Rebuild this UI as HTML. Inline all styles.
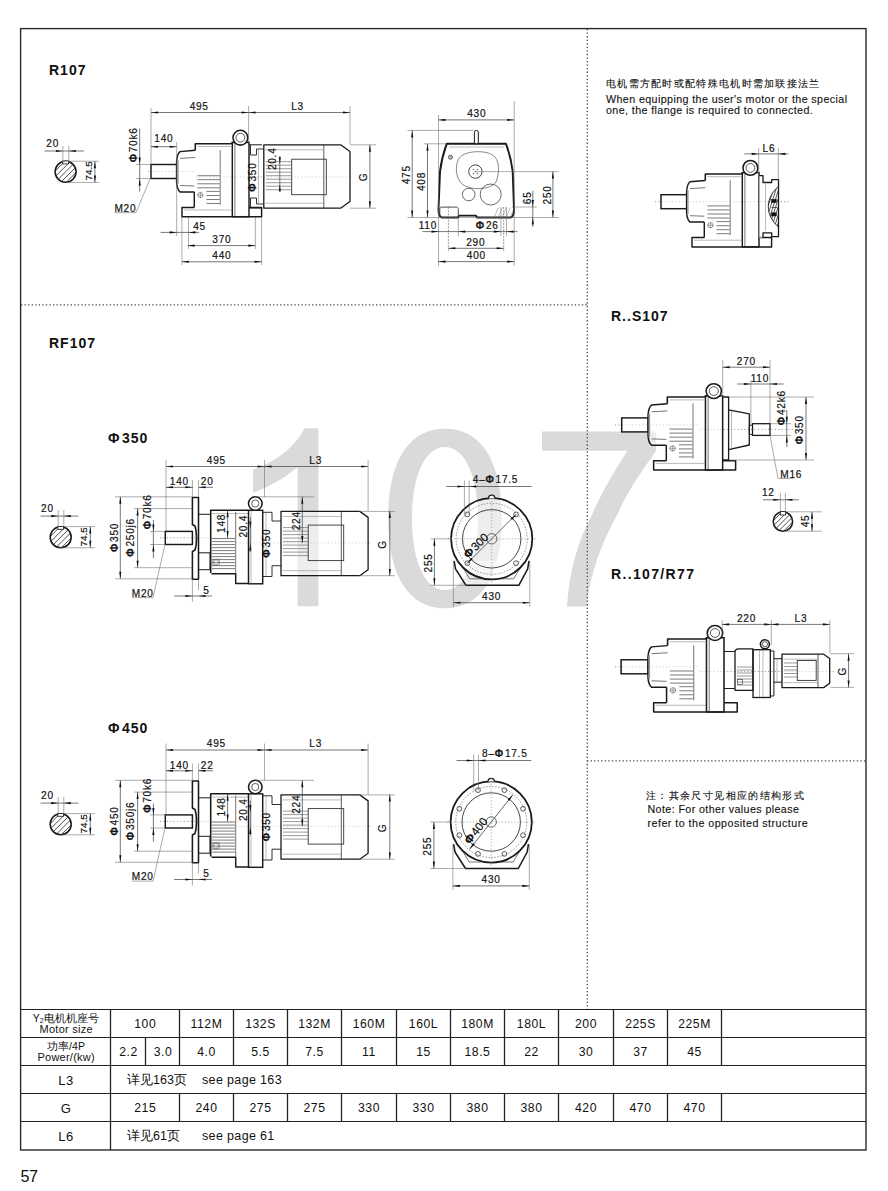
<!DOCTYPE html>
<html><head><meta charset="utf-8"><title>R107</title>
<style>
html,body{margin:0;padding:0;background:#fff;}
body{width:888px;height:1191px;overflow:hidden;font-family:"Liberation Sans",sans-serif;}
svg{display:block;}
text{stroke:#111;stroke-width:0.18px;}
text.t{stroke:none;}
text.n{stroke-width:0.12px;}
</style></head><body>
<svg width="888" height="1191" viewBox="0 0 888 1191" font-family='&quot;Liberation Sans&quot;, sans-serif'>
<path fill="#dadada" d="M304.3,428.2 L318.4,428.2 L318.4,606.2 L297.6,606.2 L297.6,467 C287,476 272,486 253,492.6 L253,469.5 C276,462 296,446 304.3,428.2 Z"/>
<path fill="#dadada" fill-rule="evenodd" d="M445,428.7 C481.35,428.7 501.8,461.03 501.8,518.5 C501.8,575.97 481.35,608.3 445,608.3 C408.65,608.3 388.2,575.97 388.2,518.5 C388.2,461.03 408.65,428.7 445,428.7Z M445,446.9 C464.8,446.9 478,475.54 478,518.5 C478,561.46 464.8,590.1 445,590.1 C425.2,590.1 412,561.46 412,518.5 C412,475.54 425.2,446.9 445,446.9Z"/>
<path fill="#dadada" d="M542,431.4 L656,431.4 L656,450.8 C645,467 628,490 617.5,514.2 C603,540 590,572 586.7,606.6 L567,606.6 C569,572 578,540 592.2,514.2 C603,490 616,468 627.6,450.8 L542,450.8 Z"/>
<rect x="20.6" y="28.6" width="845.4" height="1121.4" fill="none" stroke="#2a2a2a" stroke-width="1.4"/>
<line x1="587.3" y1="29" x2="587.3" y2="1009" stroke="#444" stroke-width="1.3" stroke-dasharray="1.3 2.25"/>
<line x1="21" y1="304.9" x2="587" y2="304.9" stroke="#444" stroke-width="1.3" stroke-dasharray="1.3 2.25"/>
<line x1="587" y1="760.9" x2="866" y2="760.9" stroke="#444" stroke-width="1.3" stroke-dasharray="1.3 2.25"/>
<line x1="21" y1="1009.5" x2="866" y2="1009.5" stroke="#222" stroke-width="1.2"/>
<line x1="21" y1="1037.5" x2="866" y2="1037.5" stroke="#222" stroke-width="1.2"/>
<line x1="21" y1="1065.5" x2="866" y2="1065.5" stroke="#222" stroke-width="1.2"/>
<line x1="21" y1="1093.5" x2="866" y2="1093.5" stroke="#222" stroke-width="1.2"/>
<line x1="21" y1="1121.5" x2="866" y2="1121.5" stroke="#222" stroke-width="1.2"/>
<line x1="110.5" y1="1009" x2="110.5" y2="1150" stroke="#222" stroke-width="1.3"/>
<line x1="179.5" y1="1009" x2="179.5" y2="1065" stroke="#222" stroke-width="1.3"/>
<line x1="233.5" y1="1009" x2="233.5" y2="1065" stroke="#222" stroke-width="1.3"/>
<line x1="287.5" y1="1009" x2="287.5" y2="1065" stroke="#222" stroke-width="1.3"/>
<line x1="341.5" y1="1009" x2="341.5" y2="1065" stroke="#222" stroke-width="1.3"/>
<line x1="396.5" y1="1009" x2="396.5" y2="1065" stroke="#222" stroke-width="1.3"/>
<line x1="450.5" y1="1009" x2="450.5" y2="1065" stroke="#222" stroke-width="1.3"/>
<line x1="504.5" y1="1009" x2="504.5" y2="1065" stroke="#222" stroke-width="1.3"/>
<line x1="558.5" y1="1009" x2="558.5" y2="1065" stroke="#222" stroke-width="1.3"/>
<line x1="613.5" y1="1009" x2="613.5" y2="1065" stroke="#222" stroke-width="1.3"/>
<line x1="667.5" y1="1009" x2="667.5" y2="1065" stroke="#222" stroke-width="1.3"/>
<line x1="721.5" y1="1009" x2="721.5" y2="1065" stroke="#222" stroke-width="1.3"/>
<line x1="179.5" y1="1093" x2="179.5" y2="1121" stroke="#222" stroke-width="1.3"/>
<line x1="233.5" y1="1093" x2="233.5" y2="1121" stroke="#222" stroke-width="1.3"/>
<line x1="287.5" y1="1093" x2="287.5" y2="1121" stroke="#222" stroke-width="1.3"/>
<line x1="341.5" y1="1093" x2="341.5" y2="1121" stroke="#222" stroke-width="1.3"/>
<line x1="396.5" y1="1093" x2="396.5" y2="1121" stroke="#222" stroke-width="1.3"/>
<line x1="450.5" y1="1093" x2="450.5" y2="1121" stroke="#222" stroke-width="1.3"/>
<line x1="504.5" y1="1093" x2="504.5" y2="1121" stroke="#222" stroke-width="1.3"/>
<line x1="558.5" y1="1093" x2="558.5" y2="1121" stroke="#222" stroke-width="1.3"/>
<line x1="613.5" y1="1093" x2="613.5" y2="1121" stroke="#222" stroke-width="1.3"/>
<line x1="667.5" y1="1093" x2="667.5" y2="1121" stroke="#222" stroke-width="1.3"/>
<line x1="721.5" y1="1093" x2="721.5" y2="1121" stroke="#222" stroke-width="1.3"/>
<line x1="145.5" y1="1037" x2="145.5" y2="1065" stroke="#222" stroke-width="1.3"/>
<text class="t" x="145.25" y="1028" font-size="12.2" text-anchor="middle" fill="#111" letter-spacing="0.55">100</text>
<text class="t" x="206.5" y="1028" font-size="12.2" text-anchor="middle" fill="#111" letter-spacing="0.55">112M</text>
<text class="t" x="260.5" y="1028" font-size="12.2" text-anchor="middle" fill="#111" letter-spacing="0.55">132S</text>
<text class="t" x="314.5" y="1028" font-size="12.2" text-anchor="middle" fill="#111" letter-spacing="0.55">132M</text>
<text class="t" x="369" y="1028" font-size="12.2" text-anchor="middle" fill="#111" letter-spacing="0.55">160M</text>
<text class="t" x="423.5" y="1028" font-size="12.2" text-anchor="middle" fill="#111" letter-spacing="0.55">160L</text>
<text class="t" x="477.5" y="1028" font-size="12.2" text-anchor="middle" fill="#111" letter-spacing="0.55">180M</text>
<text class="t" x="531.5" y="1028" font-size="12.2" text-anchor="middle" fill="#111" letter-spacing="0.55">180L</text>
<text class="t" x="586" y="1028" font-size="12.2" text-anchor="middle" fill="#111" letter-spacing="0.55">200</text>
<text class="t" x="640.5" y="1028" font-size="12.2" text-anchor="middle" fill="#111" letter-spacing="0.55">225S</text>
<text class="t" x="694.5" y="1028" font-size="12.2" text-anchor="middle" fill="#111" letter-spacing="0.55">225M</text>
<text class="t" x="145.25" y="1112" font-size="12.2" text-anchor="middle" fill="#111" letter-spacing="0.55">215</text>
<text class="t" x="206.5" y="1112" font-size="12.2" text-anchor="middle" fill="#111" letter-spacing="0.55">240</text>
<text class="t" x="260.5" y="1112" font-size="12.2" text-anchor="middle" fill="#111" letter-spacing="0.55">275</text>
<text class="t" x="314.5" y="1112" font-size="12.2" text-anchor="middle" fill="#111" letter-spacing="0.55">275</text>
<text class="t" x="369" y="1112" font-size="12.2" text-anchor="middle" fill="#111" letter-spacing="0.55">330</text>
<text class="t" x="423.5" y="1112" font-size="12.2" text-anchor="middle" fill="#111" letter-spacing="0.55">330</text>
<text class="t" x="477.5" y="1112" font-size="12.2" text-anchor="middle" fill="#111" letter-spacing="0.55">380</text>
<text class="t" x="531.5" y="1112" font-size="12.2" text-anchor="middle" fill="#111" letter-spacing="0.55">380</text>
<text class="t" x="586" y="1112" font-size="12.2" text-anchor="middle" fill="#111" letter-spacing="0.55">420</text>
<text class="t" x="640.5" y="1112" font-size="12.2" text-anchor="middle" fill="#111" letter-spacing="0.55">470</text>
<text class="t" x="694.5" y="1112" font-size="12.2" text-anchor="middle" fill="#111" letter-spacing="0.55">470</text>
<text class="t" x="128.5" y="1056" font-size="12.2" text-anchor="middle" fill="#111" letter-spacing="0.55">2.2</text>
<text class="t" x="163" y="1056" font-size="12.2" text-anchor="middle" fill="#111" letter-spacing="0.55">3.0</text>
<text class="t" x="206.5" y="1056" font-size="12.2" text-anchor="middle" fill="#111" letter-spacing="0.55">4.0</text>
<text class="t" x="260.5" y="1056" font-size="12.2" text-anchor="middle" fill="#111" letter-spacing="0.55">5.5</text>
<text class="t" x="314.5" y="1056" font-size="12.2" text-anchor="middle" fill="#111" letter-spacing="0.55">7.5</text>
<text class="t" x="369" y="1056" font-size="12.2" text-anchor="middle" fill="#111" letter-spacing="0.55">11</text>
<text class="t" x="423.5" y="1056" font-size="12.2" text-anchor="middle" fill="#111" letter-spacing="0.55">15</text>
<text class="t" x="477.5" y="1056" font-size="12.2" text-anchor="middle" fill="#111" letter-spacing="0.55">18.5</text>
<text class="t" x="531.5" y="1056" font-size="12.2" text-anchor="middle" fill="#111" letter-spacing="0.55">22</text>
<text class="t" x="586" y="1056" font-size="12.2" text-anchor="middle" fill="#111" letter-spacing="0.55">30</text>
<text class="t" x="640.5" y="1056" font-size="12.2" text-anchor="middle" fill="#111" letter-spacing="0.55">37</text>
<text class="t" x="694.5" y="1056" font-size="12.2" text-anchor="middle" fill="#111" letter-spacing="0.55">45</text>
<text class="t" x="66" y="1021.5" font-size="10.5" text-anchor="middle" fill="#111" letter-spacing="0.1">Y<tspan font-size="7" dy="1">2</tspan><tspan dy="-1">电机机座号</tspan></text>
<text class="t" x="66.2" y="1033" font-size="11" text-anchor="middle" fill="#111" letter-spacing="0.25">Motor size</text>
<text class="t" x="66" y="1049.5" font-size="10.5" text-anchor="middle" fill="#111" letter-spacing="0.1">功率/4P</text>
<text class="t" x="66.2" y="1061" font-size="11" text-anchor="middle" fill="#111" letter-spacing="0.25">Power/(kw)</text>
<text class="t" x="66" y="1084.5" font-size="13" text-anchor="middle" fill="#111" letter-spacing="0.55">L3</text>
<text class="t" x="66" y="1112.5" font-size="13" text-anchor="middle" fill="#111" letter-spacing="0.55">G</text>
<text class="t" x="66" y="1140.5" font-size="13" text-anchor="middle" fill="#111" letter-spacing="0.55">L6</text>
<text class="t" x="127" y="1084" font-size="12.5" text-anchor="start" fill="#111" letter-spacing="0">详见163页</text>
<text class="t" x="202" y="1084" font-size="12.5" text-anchor="start" fill="#111" letter-spacing="0.35">see page 163</text>
<text class="t" x="127" y="1140" font-size="12.5" text-anchor="start" fill="#111" letter-spacing="0">详见61页</text>
<text class="t" x="202" y="1140" font-size="12.5" text-anchor="start" fill="#111" letter-spacing="0.35">see page 61</text>
<text class="t" x="20.5" y="1182" font-size="16.2" text-anchor="start" fill="#111" letter-spacing="-0.6">57</text>
<text class="t" x="49" y="74.8" font-size="14" text-anchor="start" fill="#111" font-weight="bold" letter-spacing="1">R107</text>
<text class="t" x="49" y="348.4" font-size="14" text-anchor="start" fill="#111" font-weight="bold" letter-spacing="1">RF107</text>
<text class="t" x="108" y="443" font-size="14" text-anchor="start" fill="#111" font-weight="bold" letter-spacing="1"><tspan font-weight="bold" font-size="14">Φ</tspan><tspan dx="1.4">350</tspan></text>
<text class="t" x="108" y="733" font-size="14" text-anchor="start" fill="#111" font-weight="bold" letter-spacing="1"><tspan font-weight="bold" font-size="14">Φ</tspan><tspan dx="1.4">450</tspan></text>
<text class="t" x="611" y="320.5" font-size="14" text-anchor="start" fill="#111" font-weight="bold" letter-spacing="1">R..S107</text>
<text class="t" x="611" y="579.2" font-size="14" text-anchor="start" fill="#111" font-weight="bold" letter-spacing="1.35">R..107/R77</text>
<text class="n" x="606" y="87" font-size="10.3" text-anchor="start" fill="#111" letter-spacing="1.3">电机需方配时或配特殊电机时需加联接法兰</text>
<text class="n" x="606" y="102.5" font-size="10.7" text-anchor="start" fill="#111" letter-spacing="0.4">When equipping the user's motor or the special</text>
<text class="n" x="606" y="114" font-size="10.7" text-anchor="start" fill="#111" letter-spacing="0.4">one, the flange is required to connected.</text>
<text class="n" x="646" y="799" font-size="10.3" text-anchor="start" fill="#111" letter-spacing="1.37">注：其余尺寸见相应的结构形式</text>
<text class="n" x="647.5" y="812.5" font-size="10.7" text-anchor="start" fill="#111" letter-spacing="0.4">Note: For other values please</text>
<text class="n" x="647.5" y="827" font-size="10.7" text-anchor="start" fill="#111" letter-spacing="0.47">refer to the opposited structure</text>
<clipPath id="c65_171"><circle cx="65.6" cy="171.8" r="10.5"/></clipPath>
<g clip-path="url(#c65_171)">
<line x1="31.59" y1="177.79" x2="71.59" y2="137.79" stroke="#222" stroke-width="0.8"/>
<line x1="34.39" y1="180.59" x2="74.39" y2="140.59" stroke="#222" stroke-width="0.8"/>
<line x1="37.19" y1="183.39" x2="77.19" y2="143.39" stroke="#222" stroke-width="0.8"/>
<line x1="40" y1="186.2" x2="80" y2="146.2" stroke="#222" stroke-width="0.8"/>
<line x1="42.8" y1="189" x2="82.8" y2="149" stroke="#222" stroke-width="0.8"/>
<line x1="45.6" y1="191.8" x2="85.6" y2="151.8" stroke="#222" stroke-width="0.8"/>
<line x1="48.4" y1="194.6" x2="88.4" y2="154.6" stroke="#222" stroke-width="0.8"/>
<line x1="51.2" y1="197.4" x2="91.2" y2="157.4" stroke="#222" stroke-width="0.8"/>
<line x1="54.01" y1="200.21" x2="94.01" y2="160.21" stroke="#222" stroke-width="0.8"/>
<line x1="56.81" y1="203.01" x2="96.81" y2="163.01" stroke="#222" stroke-width="0.8"/>
<line x1="59.61" y1="205.81" x2="99.61" y2="165.81" stroke="#222" stroke-width="0.8"/>
</g>
<circle cx="65.6" cy="171.8" r="10.5" fill="none" stroke="#1a1a1a" stroke-width="1.55"/>
<rect x="62.8" y="161" width="5.6" height="2.9" fill="#fff" stroke="#1a1a1a" stroke-width="0.8"/>
<text x="52.67" y="146.64" font-size="10.1" text-anchor="middle" fill="#111" letter-spacing="0.75">20</text>
<line x1="44.5" y1="151" x2="84" y2="151" stroke="#3c3c3c" stroke-width="0.7"/>
<path d="M62.9,151 L55.9,152.05 L55.9,149.95 Z" fill="#111"/>
<path d="M68.8,151 L75.8,149.95 L75.8,152.05 Z" fill="#111"/>
<line x1="62.9" y1="146" x2="62.9" y2="162" stroke="#666" stroke-width="0.55"/>
<line x1="68.8" y1="146" x2="68.8" y2="162" stroke="#666" stroke-width="0.55"/>
<line x1="68" y1="161.2" x2="99" y2="161.2" stroke="#666" stroke-width="0.55"/>
<line x1="66" y1="182.4" x2="99" y2="182.4" stroke="#666" stroke-width="0.55"/>
<line x1="94.9" y1="161.2" x2="94.9" y2="182.4" stroke="#3c3c3c" stroke-width="0.7"/>
<path d="M94.9,161.2 L95.95,168.2 L93.85,168.2 Z" fill="#111"/>
<path d="M94.9,182.4 L93.85,175.4 L95.95,175.4 Z" fill="#111"/>
<text x="92.03" y="170.8" font-size="9.8" text-anchor="middle" fill="#111" letter-spacing="0.1" transform="rotate(-90 92.03 170.8)">74.5</text>
<line x1="148" y1="171.5" x2="196" y2="171.5" stroke="#777" stroke-width="0.7" stroke-dasharray="1.2 2.2"/>
<line x1="196" y1="177" x2="352" y2="177" stroke="#777" stroke-width="0.7" stroke-dasharray="1.2 2.2"/>
<g transform="translate(0 0) translate(151 0) scale(1 1) translate(-151 0)">
<path d="M151,164.5 L176.7,164.5 L176.7,160 L180,151.6 L195.3,150.3 L195.3,143.7 L233.3,142.4 L249,142.4 L249,207.4 L261.6,207.4 L261.6,216.7 L182,216.7 L182,207.4 L194.3,207.4 L194.3,191.9 L180,191.9 L176.7,184 L176.7,178.5 L151,178.5 Z" fill="#fff" fill-opacity="0.5" stroke="none"/>
<rect x="151" y="164.5" width="25.7" height="14" fill="none" stroke="#1a1a1a" stroke-width="1.45"/>
<path d="M195.3,150.3 L180,151.6 C177.8,153.5 176.8,157 176.6,162 L176.6,182 C176.8,186.5 177.8,190 180,191.9 L194.3,191.9" fill="none" stroke="#1a1a1a" stroke-width="1.45" stroke-linejoin="round"/>
<line x1="180" y1="158.4" x2="195.3" y2="157.5" stroke="#3c3c3c" stroke-width="0.7"/>
<line x1="180" y1="185.5" x2="194.3" y2="186" stroke="#3c3c3c" stroke-width="0.7"/>
<line x1="177.8" y1="160" x2="177.8" y2="184" stroke="#999" stroke-width="1.6"/>
<path d="M195.3,150.3 L195.3,143.7 L231,143.7 L233.3,142.4" fill="none" stroke="#1a1a1a" stroke-width="1.55" stroke-linejoin="round"/>
<path d="M194.3,191.9 L194.3,207.4" fill="none" stroke="#1a1a1a" stroke-width="1.45" stroke-linejoin="round"/>
<line x1="197.5" y1="146.5" x2="231" y2="146.5" stroke="#777" stroke-width="0.5"/>
<line x1="220.2" y1="150" x2="220.2" y2="205" stroke="#3c3c3c" stroke-width="0.7"/>
<line x1="197.4" y1="175.7" x2="219.7" y2="175.7" stroke="#444" stroke-width="0.7"/>
<line x1="197.4" y1="179.7" x2="219.7" y2="179.7" stroke="#444" stroke-width="0.7"/>
<line x1="197.4" y1="183.8" x2="219.7" y2="183.8" stroke="#444" stroke-width="0.7"/>
<line x1="197.4" y1="187.8" x2="219.7" y2="187.8" stroke="#444" stroke-width="0.7"/>
<line x1="206.5" y1="191.4" x2="219.7" y2="191.4" stroke="#444" stroke-width="0.7"/>
<line x1="206.5" y1="195.5" x2="219.7" y2="195.5" stroke="#444" stroke-width="0.7"/>
<line x1="206.5" y1="199.5" x2="219.7" y2="199.5" stroke="#444" stroke-width="0.7"/>
<line x1="206.5" y1="203.5" x2="219.7" y2="203.5" stroke="#444" stroke-width="0.7"/>
<circle cx="200.4" cy="195" r="2.6" fill="none" stroke="#555" stroke-width="0.6"/>
<line x1="197.5" y1="195" x2="203.3" y2="195" stroke="#555" stroke-width="0.5"/>
<line x1="200.4" y1="192.1" x2="200.4" y2="197.9" stroke="#555" stroke-width="0.5"/>
<rect x="232.3" y="142.4" width="16.7" height="74.3" fill="none" stroke="#1a1a1a" stroke-width="1.45"/>
<line x1="234.9" y1="142.4" x2="234.9" y2="216.7" stroke="#3c3c3c" stroke-width="0.7"/>
<circle cx="240.4" cy="137.7" r="7.4" fill="#fff" stroke="#1a1a1a" stroke-width="1.55"/>
<circle cx="240.4" cy="137.7" r="4.4" fill="none" stroke="#333" stroke-width="0.8"/>
<path d="M194.3,207.4 L182,207.4 L182,216.7 L261.6,216.7 L261.6,207.4 L249,207.4" fill="none" stroke="#1a1a1a" stroke-width="1.45" stroke-linejoin="round"/>
<line x1="184" y1="210" x2="232" y2="210" stroke="#777" stroke-width="0.5"/>
</g>
<path d="M249,144.8 L262,144.8 M249,208 L262,208" fill="none" stroke="#1a1a1a" stroke-width="1" stroke-linejoin="round"/>
<path d="M250.5,144.8 L250.5,155 L256.5,155 L256.5,149 L263.8,149" fill="none" stroke="#1a1a1a" stroke-width="0.9" stroke-linejoin="round"/>
<path d="M250.5,208 L250.5,198 L256.5,198 L256.5,204 L263.8,204" fill="none" stroke="#1a1a1a" stroke-width="0.9" stroke-linejoin="round"/>
<line x1="258.5" y1="150" x2="258.5" y2="203" stroke="#777" stroke-width="0.5"/>
<path d="M263.8,144.8 L340.6,144.8 L350,151.57 L350,201.43 L340.6,208.2 L263.8,208.2 Z" fill="#fff" fill-opacity="0.5" stroke="none"/>
<path d="M263.8,144.8 L340.6,144.8 L350,151.57 L350,201.43 L340.6,208.2 L263.8,208.2 Z" fill="none" stroke="#1a1a1a" stroke-width="1.3" stroke-linejoin="round"/>
<line x1="323.8" y1="144.8" x2="323.8" y2="208.2" stroke="#333" stroke-width="0.8"/>
<line x1="265.3" y1="149.8" x2="323.8" y2="149.8" stroke="#777" stroke-width="0.5"/>
<line x1="265.3" y1="203.2" x2="323.8" y2="203.2" stroke="#777" stroke-width="0.5"/>
<rect x="291.7" y="159.2" width="34.6" height="35.5" fill="none" stroke="#333" stroke-width="0.9"/>
<line x1="265.8" y1="161.7" x2="291.7" y2="161.7" stroke="#555" stroke-width="0.6"/>
<line x1="265.8" y1="165.2" x2="291.7" y2="165.2" stroke="#555" stroke-width="0.6"/>
<line x1="265.8" y1="168.7" x2="291.7" y2="168.7" stroke="#555" stroke-width="0.6"/>
<line x1="265.8" y1="172.2" x2="291.7" y2="172.2" stroke="#555" stroke-width="0.6"/>
<line x1="265.8" y1="175.7" x2="291.7" y2="175.7" stroke="#555" stroke-width="0.6"/>
<line x1="265.8" y1="179.2" x2="291.7" y2="179.2" stroke="#555" stroke-width="0.6"/>
<line x1="265.8" y1="182.7" x2="291.7" y2="182.7" stroke="#555" stroke-width="0.6"/>
<line x1="265.8" y1="186.2" x2="291.7" y2="186.2" stroke="#555" stroke-width="0.6"/>
<line x1="265.8" y1="189.7" x2="291.7" y2="189.7" stroke="#555" stroke-width="0.6"/>
<line x1="151" y1="108" x2="151" y2="164" stroke="#666" stroke-width="0.55"/>
<line x1="248.6" y1="106" x2="248.6" y2="142" stroke="#666" stroke-width="0.55"/>
<line x1="350" y1="106" x2="350" y2="144" stroke="#666" stroke-width="0.55"/>
<line x1="151" y1="112.5" x2="350" y2="112.5" stroke="#3c3c3c" stroke-width="0.7"/>
<path d="M151,112.5 L158,111.45 L158,113.55 Z" fill="#111"/>
<path d="M248.6,112.5 L241.6,113.55 L241.6,111.45 Z" fill="#111"/>
<path d="M248.6,112.5 L255.6,111.45 L255.6,113.55 Z" fill="#111"/>
<path d="M350,112.5 L343,113.55 L343,111.45 Z" fill="#111"/>
<text x="199.18" y="109.64" font-size="10.1" text-anchor="middle" fill="#111" letter-spacing="0.75">495</text>
<text x="297.57" y="109.64" font-size="10.1" text-anchor="middle" fill="#111" letter-spacing="0.75">L3</text>
<line x1="151" y1="146.7" x2="176.7" y2="146.7" stroke="#3c3c3c" stroke-width="0.7"/>
<path d="M151,146.7 L158,145.65 L158,147.75 Z" fill="#111"/>
<path d="M176.7,146.7 L169.7,147.75 L169.7,145.65 Z" fill="#111"/>
<line x1="176.7" y1="142" x2="176.7" y2="236" stroke="#666" stroke-width="0.55"/>
<text x="163.88" y="142.14" font-size="10.1" text-anchor="middle" fill="#111" letter-spacing="0.75">140</text>
<line x1="139.7" y1="128.5" x2="139.7" y2="191.5" stroke="#3c3c3c" stroke-width="0.7"/>
<path d="M139.7,164.5 L138.65,157.5 L140.75,157.5 Z" fill="#111"/>
<path d="M139.7,178.5 L140.75,185.5 L138.65,185.5 Z" fill="#111"/>
<line x1="136" y1="164.5" x2="151" y2="164.5" stroke="#666" stroke-width="0.55"/>
<line x1="136" y1="178.5" x2="151" y2="178.5" stroke="#666" stroke-width="0.55"/>
<text x="136.84" y="144.88" font-size="10.1" text-anchor="middle" fill="#111" letter-spacing="0.75" transform="rotate(-90 136.84 144.88)"><tspan font-weight="bold" font-size="10.1">Φ</tspan><tspan dx="1.01">70k6</tspan></text>
<text x="125.38" y="211.64" font-size="10.1" text-anchor="middle" fill="#111" letter-spacing="0.75">M20</text>
<line x1="114.5" y1="212.7" x2="136" y2="212.7" stroke="#666" stroke-width="0.55"/>
<line x1="136" y1="212.7" x2="150" y2="179" stroke="#666" stroke-width="0.55"/>
<line x1="160.6" y1="232.4" x2="199" y2="232.4" stroke="#3c3c3c" stroke-width="0.7"/>
<path d="M176.7,232.4 L169.7,233.45 L169.7,231.35 Z" fill="#111"/>
<path d="M188.5,232.4 L195.5,231.35 L195.5,233.45 Z" fill="#111"/>
<text x="199.57" y="229.64" font-size="10.1" text-anchor="middle" fill="#111" letter-spacing="0.75">45</text>
<line x1="188.5" y1="217" x2="188.5" y2="249" stroke="#666" stroke-width="0.55"/>
<line x1="255.3" y1="217" x2="255.3" y2="249" stroke="#666" stroke-width="0.55"/>
<line x1="187.7" y1="245.6" x2="255.3" y2="245.6" stroke="#3c3c3c" stroke-width="0.7"/>
<path d="M187.7,245.6 L194.7,244.55 L194.7,246.65 Z" fill="#111"/>
<path d="M255.3,245.6 L248.3,246.65 L248.3,244.55 Z" fill="#111"/>
<text x="221.88" y="242.64" font-size="10.1" text-anchor="middle" fill="#111" letter-spacing="0.75">370</text>
<line x1="181.9" y1="217" x2="181.9" y2="265" stroke="#666" stroke-width="0.55"/>
<line x1="261.6" y1="217" x2="261.6" y2="265" stroke="#666" stroke-width="0.55"/>
<line x1="181.9" y1="261.8" x2="261.6" y2="261.8" stroke="#3c3c3c" stroke-width="0.7"/>
<path d="M181.9,261.8 L188.9,260.75 L188.9,262.85 Z" fill="#111"/>
<path d="M261.6,261.8 L254.6,262.85 L254.6,260.75 Z" fill="#111"/>
<text x="221.88" y="258.94" font-size="10.1" text-anchor="middle" fill="#111" letter-spacing="0.75">440</text>
<line x1="279.8" y1="156" x2="279.8" y2="190" stroke="#3c3c3c" stroke-width="0.7"/>
<path d="M279.8,164.3 L278.75,157.3 L280.85,157.3 Z" fill="#111"/>
<path d="M279.8,184.5 L280.85,191.5 L278.75,191.5 Z" fill="#111"/>
<text x="275.84" y="158.78" font-size="10.1" text-anchor="middle" fill="#111" letter-spacing="0.75" transform="rotate(-90 275.84 158.78)">20.4</text>
<text x="255.64" y="177.07" font-size="10.1" text-anchor="middle" fill="#111" letter-spacing="0.75" transform="rotate(-90 255.64 177.07)"><tspan font-weight="bold" font-size="10.1">Φ</tspan><tspan dx="1.01">350</tspan></text>
<line x1="350" y1="144.8" x2="376" y2="144.8" stroke="#666" stroke-width="0.55"/>
<line x1="350" y1="208.2" x2="376" y2="208.2" stroke="#666" stroke-width="0.55"/>
<line x1="369.9" y1="144.8" x2="369.9" y2="208.2" stroke="#3c3c3c" stroke-width="0.7"/>
<path d="M369.9,144.8 L370.95,151.8 L368.85,151.8 Z" fill="#111"/>
<path d="M369.9,208.2 L368.85,201.2 L370.95,201.2 Z" fill="#111"/>
<text x="366.94" y="176.88" font-size="10.1" text-anchor="middle" fill="#111" letter-spacing="0.75" transform="rotate(-90 366.94 176.88)">G</text>
<path d="M446.7,143.8 L506,143.8 C509,152 511.5,161 512.7,171.6 L514,209.5 C514,213.5 513,216.5 511,217.5 L477,217.5 L476,215.6 L459,215.6 L458,217.5 L441.5,217.5 C439.5,216.5 438.5,213.5 438.5,209.5 L440,171.6 C441.2,161 443.7,152 446.7,143.8 Z" fill="none" stroke="#1a1a1a" stroke-width="1.9" stroke-linejoin="round"/>
<line x1="449" y1="147" x2="504" y2="147" stroke="#777" stroke-width="0.5"/>
<rect x="474.4" y="130.4" width="3.9" height="13.4" fill="#fff" stroke="#1a1a1a" stroke-width="1" rx="1.8"/>
<path d="M458,160 C462,150 488,149 495,157 C500,163 499,175 496,182 C491,190 470,191 462,184 C456,178 455,168 458,160 Z" fill="none" stroke="#555" stroke-width="0.7" stroke-linejoin="round"/>
<circle cx="475.4" cy="171.6" r="6.7" fill="none" stroke="#333" stroke-width="0.9"/>
<circle cx="473.4" cy="169.6" r="0.5" fill="#555" stroke="#555" stroke-width="0.4"/>
<circle cx="477.4" cy="169.6" r="0.5" fill="#555" stroke="#555" stroke-width="0.4"/>
<circle cx="473.4" cy="173.6" r="0.5" fill="#555" stroke="#555" stroke-width="0.4"/>
<circle cx="477.4" cy="173.6" r="0.5" fill="#555" stroke="#555" stroke-width="0.4"/>
<circle cx="475.4" cy="171.6" r="0.5" fill="#555" stroke="#555" stroke-width="0.4"/>
<circle cx="468.7" cy="194.5" r="6.3" fill="none" stroke="#444" stroke-width="0.8"/>
<circle cx="490.7" cy="194.5" r="10.5" fill="none" stroke="#444" stroke-width="0.8"/>
<circle cx="450.5" cy="157.2" r="2" fill="#bbb" stroke="#555" stroke-width="0.9"/>
<path d="M439.8,216.7 L439.8,209 C439.8,207.8 440.5,207.1 441.5,207.1 L456.3,207.1 C457.5,207.1 458.3,208 458.3,209.5 L458.3,216.7" fill="none" stroke="#333" stroke-width="0.9" stroke-linejoin="round"/>
<line x1="500.9" y1="207" x2="500.9" y2="236" stroke="#666" stroke-width="0.55"/>
<line x1="506.5" y1="207" x2="506.5" y2="236" stroke="#666" stroke-width="0.55"/>
<line x1="503.7" y1="207" x2="503.7" y2="252" stroke="#555" stroke-width="0.6" stroke-dasharray="2 1.2"/>
<line x1="448.4" y1="207" x2="448.4" y2="252" stroke="#555" stroke-width="0.6" stroke-dasharray="2 1.2"/>
<line x1="494.5" y1="216.5" x2="498.5" y2="207.5" stroke="#777" stroke-width="0.5"/>
<line x1="498.5" y1="216.5" x2="502.5" y2="207.5" stroke="#777" stroke-width="0.5"/>
<line x1="502.5" y1="216.5" x2="506.5" y2="207.5" stroke="#777" stroke-width="0.5"/>
<line x1="506.5" y1="216.5" x2="510.5" y2="207.5" stroke="#777" stroke-width="0.5"/>
<line x1="510.5" y1="216.5" x2="514.5" y2="207.5" stroke="#777" stroke-width="0.5"/>
<line x1="438.5" y1="115" x2="438.5" y2="266" stroke="#666" stroke-width="0.55"/>
<line x1="514.2" y1="101" x2="514.2" y2="266" stroke="#666" stroke-width="0.55"/>
<line x1="438.5" y1="119.9" x2="514.2" y2="119.9" stroke="#3c3c3c" stroke-width="0.7"/>
<path d="M438.5,119.9 L445.5,118.85 L445.5,120.95 Z" fill="#111"/>
<path d="M514.2,119.9 L507.2,120.95 L507.2,118.85 Z" fill="#111"/>
<text x="476.77" y="116.84" font-size="10.1" text-anchor="middle" fill="#111" letter-spacing="0.75">430</text>
<line x1="407.4" y1="130.4" x2="473.5" y2="130.4" stroke="#666" stroke-width="0.55"/>
<line x1="423.7" y1="143.8" x2="446.7" y2="143.8" stroke="#666" stroke-width="0.55"/>
<line x1="407.4" y1="217.5" x2="558.7" y2="217.5" stroke="#666" stroke-width="0.55"/>
<line x1="412.2" y1="130.4" x2="412.2" y2="217.5" stroke="#3c3c3c" stroke-width="0.7"/>
<path d="M412.2,130.4 L413.25,137.4 L411.15,137.4 Z" fill="#111"/>
<path d="M412.2,217.5 L411.15,210.5 L413.25,210.5 Z" fill="#111"/>
<text x="409.94" y="174.78" font-size="10.1" text-anchor="middle" fill="#111" letter-spacing="0.75" transform="rotate(-90 409.94 174.78)">475</text>
<line x1="427.5" y1="143.8" x2="427.5" y2="217.5" stroke="#3c3c3c" stroke-width="0.7"/>
<path d="M427.5,143.8 L428.55,150.8 L426.45,150.8 Z" fill="#111"/>
<path d="M427.5,217.5 L426.45,210.5 L428.55,210.5 Z" fill="#111"/>
<text x="425.44" y="181.47" font-size="10.1" text-anchor="middle" fill="#111" letter-spacing="0.75" transform="rotate(-90 425.44 181.47)">408</text>
<line x1="475.4" y1="171.6" x2="558.7" y2="171.6" stroke="#666" stroke-width="0.55"/>
<line x1="552.9" y1="171.6" x2="552.9" y2="217.5" stroke="#3c3c3c" stroke-width="0.7"/>
<path d="M552.9,171.6 L553.95,178.6 L551.85,178.6 Z" fill="#111"/>
<path d="M552.9,217.5 L551.85,210.5 L553.95,210.5 Z" fill="#111"/>
<text x="550.84" y="194.88" font-size="10.1" text-anchor="middle" fill="#111" letter-spacing="0.75" transform="rotate(-90 550.84 194.88)">250</text>
<line x1="512" y1="207" x2="536.7" y2="207" stroke="#666" stroke-width="0.55"/>
<line x1="532.8" y1="190.7" x2="532.8" y2="227" stroke="#3c3c3c" stroke-width="0.7"/>
<path d="M532.8,207 L531.75,200 L533.85,200 Z" fill="#111"/>
<path d="M532.8,217.5 L533.85,224.5 L531.75,224.5 Z" fill="#111"/>
<text x="530.64" y="197.78" font-size="10.1" text-anchor="middle" fill="#111" letter-spacing="0.75" transform="rotate(-90 530.64 197.78)">65</text>
<line x1="422.4" y1="231.6" x2="517.5" y2="231.6" stroke="#3c3c3c" stroke-width="0.7"/>
<path d="M438.5,231.6 L431.5,232.65 L431.5,230.55 Z" fill="#111"/>
<path d="M458.3,231.6 L465.3,230.55 L465.3,232.65 Z" fill="#111"/>
<path d="M500.9,231.6 L493.9,232.65 L493.9,230.55 Z" fill="#111"/>
<path d="M506.5,231.6 L513.5,230.55 L513.5,232.65 Z" fill="#111"/>
<text x="427.88" y="228.84" font-size="10.1" text-anchor="middle" fill="#111" letter-spacing="0.75">110</text>
<text x="487.27" y="228.84" font-size="10.1" text-anchor="middle" fill="#111" letter-spacing="0.75"><tspan font-weight="bold" font-size="10.1">Φ</tspan><tspan dx="1.01">26</tspan></text>
<line x1="458.3" y1="217" x2="458.3" y2="236" stroke="#666" stroke-width="0.55"/>
<line x1="448.4" y1="248.3" x2="503.7" y2="248.3" stroke="#3c3c3c" stroke-width="0.7"/>
<path d="M448.4,248.3 L455.4,247.25 L455.4,249.35 Z" fill="#111"/>
<path d="M503.7,248.3 L496.7,249.35 L496.7,247.25 Z" fill="#111"/>
<text x="475.77" y="246.04" font-size="10.1" text-anchor="middle" fill="#111" letter-spacing="0.75">290</text>
<line x1="438.5" y1="261.6" x2="514.2" y2="261.6" stroke="#3c3c3c" stroke-width="0.7"/>
<path d="M438.5,261.6 L445.5,260.55 L445.5,262.65 Z" fill="#111"/>
<path d="M514.2,261.6 L507.2,262.65 L507.2,260.55 Z" fill="#111"/>
<text x="476.38" y="259.44" font-size="10.1" text-anchor="middle" fill="#111" letter-spacing="0.75">400</text>
<line x1="655" y1="201.7" x2="790" y2="201.7" stroke="#777" stroke-width="0.7" stroke-dasharray="1.2 2.2"/>
<g transform="translate(510 30.2) translate(151 0) scale(1 1) translate(-151 0)">
<path d="M151,164.5 L176.7,164.5 L176.7,160 L180,151.6 L195.3,150.3 L195.3,143.7 L233.3,142.4 L249,142.4 L249,207.4 L261.6,207.4 L261.6,216.7 L182,216.7 L182,207.4 L194.3,207.4 L194.3,191.9 L180,191.9 L176.7,184 L176.7,178.5 L151,178.5 Z" fill="#fff" fill-opacity="0.5" stroke="none"/>
<rect x="151" y="164.5" width="25.7" height="14" fill="none" stroke="#1a1a1a" stroke-width="1.45"/>
<path d="M195.3,150.3 L180,151.6 C177.8,153.5 176.8,157 176.6,162 L176.6,182 C176.8,186.5 177.8,190 180,191.9 L194.3,191.9" fill="none" stroke="#1a1a1a" stroke-width="1.45" stroke-linejoin="round"/>
<line x1="180" y1="158.4" x2="195.3" y2="157.5" stroke="#3c3c3c" stroke-width="0.7"/>
<line x1="180" y1="185.5" x2="194.3" y2="186" stroke="#3c3c3c" stroke-width="0.7"/>
<line x1="177.8" y1="160" x2="177.8" y2="184" stroke="#999" stroke-width="1.6"/>
<path d="M195.3,150.3 L195.3,143.7 L231,143.7 L233.3,142.4" fill="none" stroke="#1a1a1a" stroke-width="1.55" stroke-linejoin="round"/>
<path d="M194.3,191.9 L194.3,207.4" fill="none" stroke="#1a1a1a" stroke-width="1.45" stroke-linejoin="round"/>
<line x1="197.5" y1="146.5" x2="231" y2="146.5" stroke="#777" stroke-width="0.5"/>
<line x1="220.2" y1="150" x2="220.2" y2="205" stroke="#3c3c3c" stroke-width="0.7"/>
<line x1="197.4" y1="175.7" x2="219.7" y2="175.7" stroke="#444" stroke-width="0.7"/>
<line x1="197.4" y1="179.7" x2="219.7" y2="179.7" stroke="#444" stroke-width="0.7"/>
<line x1="197.4" y1="183.8" x2="219.7" y2="183.8" stroke="#444" stroke-width="0.7"/>
<line x1="197.4" y1="187.8" x2="219.7" y2="187.8" stroke="#444" stroke-width="0.7"/>
<line x1="206.5" y1="191.4" x2="219.7" y2="191.4" stroke="#444" stroke-width="0.7"/>
<line x1="206.5" y1="195.5" x2="219.7" y2="195.5" stroke="#444" stroke-width="0.7"/>
<line x1="206.5" y1="199.5" x2="219.7" y2="199.5" stroke="#444" stroke-width="0.7"/>
<line x1="206.5" y1="203.5" x2="219.7" y2="203.5" stroke="#444" stroke-width="0.7"/>
<circle cx="200.4" cy="195" r="2.6" fill="none" stroke="#555" stroke-width="0.6"/>
<line x1="197.5" y1="195" x2="203.3" y2="195" stroke="#555" stroke-width="0.5"/>
<line x1="200.4" y1="192.1" x2="200.4" y2="197.9" stroke="#555" stroke-width="0.5"/>
<rect x="232.3" y="142.4" width="16.7" height="74.3" fill="none" stroke="#1a1a1a" stroke-width="1.45"/>
<line x1="234.9" y1="142.4" x2="234.9" y2="216.7" stroke="#3c3c3c" stroke-width="0.7"/>
<circle cx="240.4" cy="137.7" r="7.4" fill="#fff" stroke="#1a1a1a" stroke-width="1.55"/>
<circle cx="240.4" cy="137.7" r="4.4" fill="none" stroke="#333" stroke-width="0.8"/>
<path d="M194.3,207.4 L182,207.4 L182,216.7 L261.6,216.7 L261.6,207.4 L249,207.4" fill="none" stroke="#1a1a1a" stroke-width="1.45" stroke-linejoin="round"/>
<line x1="184" y1="210" x2="232" y2="210" stroke="#777" stroke-width="0.5"/>
</g>
<path d="M759,175.7 L763,175.7 L763,182.5 L771.7,182.5 L771.7,179.6 L778.5,179.6 L778.5,236.6 L771.7,236.6 L771.7,232.8 L763,232.8 L763,238 L759,238 Z" fill="#fff" fill-opacity="0.5" stroke="none"/>
<path d="M759,175.7 L763,175.7 L763,182.5 L771.7,182.5 L771.7,179.6 L778.5,179.6 L778.5,236.6 L771.7,236.6 L771.7,232.8 L763,232.8 L763,238" fill="none" stroke="#1a1a1a" stroke-width="1.3" stroke-linejoin="round"/>
<line x1="765.5" y1="184" x2="765.5" y2="231" stroke="#777" stroke-width="0.5"/>
<clipPath id="fhatch"><path d="M778.5,186.4 C772,192 768.3,199 768.3,206.7 C768.3,214.4 772,221.4 778.5,227 Z"/></clipPath>
<g clip-path="url(#fhatch)">
<line x1="744.2" y1="232" x2="760.2" y2="182" stroke="#222" stroke-width="0.75"/>
<line x1="746.8" y1="232" x2="762.8" y2="182" stroke="#222" stroke-width="0.75"/>
<line x1="749.4" y1="232" x2="765.4" y2="182" stroke="#222" stroke-width="0.75"/>
<line x1="752" y1="232" x2="768" y2="182" stroke="#222" stroke-width="0.75"/>
<line x1="754.6" y1="232" x2="770.6" y2="182" stroke="#222" stroke-width="0.75"/>
<line x1="757.2" y1="232" x2="773.2" y2="182" stroke="#222" stroke-width="0.75"/>
<line x1="759.8" y1="232" x2="775.8" y2="182" stroke="#222" stroke-width="0.75"/>
<line x1="762.4" y1="232" x2="778.4" y2="182" stroke="#222" stroke-width="0.75"/>
<line x1="765" y1="232" x2="781" y2="182" stroke="#222" stroke-width="0.75"/>
<line x1="767.6" y1="232" x2="783.6" y2="182" stroke="#222" stroke-width="0.75"/>
<line x1="770.2" y1="232" x2="786.2" y2="182" stroke="#222" stroke-width="0.75"/>
<line x1="772.8" y1="232" x2="788.8" y2="182" stroke="#222" stroke-width="0.75"/>
<line x1="775.4" y1="232" x2="791.4" y2="182" stroke="#222" stroke-width="0.75"/>
<line x1="778" y1="232" x2="794" y2="182" stroke="#222" stroke-width="0.75"/>
<line x1="780.6" y1="232" x2="796.6" y2="182" stroke="#222" stroke-width="0.75"/>
<line x1="783.2" y1="232" x2="799.2" y2="182" stroke="#222" stroke-width="0.75"/>
<line x1="785.8" y1="232" x2="801.8" y2="182" stroke="#222" stroke-width="0.75"/>
<line x1="788.4" y1="232" x2="804.4" y2="182" stroke="#222" stroke-width="0.75"/>
<line x1="791" y1="232" x2="807" y2="182" stroke="#222" stroke-width="0.75"/>
<line x1="793.6" y1="232" x2="809.6" y2="182" stroke="#222" stroke-width="0.75"/>
</g>
<path d="M778.5,186.4 C772,192 768.3,199 768.3,206.7 C768.3,214.4 772,221.4 778.5,227" fill="none" stroke="#1a1a1a" stroke-width="0.9" stroke-linejoin="round"/>
<rect x="771.5" y="199.4" width="4.8" height="3.2" fill="#111" stroke="#111" stroke-width="0.5"/>
<rect x="771.5" y="212.8" width="4.8" height="3.2" fill="#111" stroke="#111" stroke-width="0.5"/>
<line x1="771.5" y1="207.5" x2="777" y2="207.5" stroke="#333" stroke-width="0.8"/>
<line x1="744.3" y1="153.9" x2="788.4" y2="153.9" stroke="#3c3c3c" stroke-width="0.7"/>
<path d="M758.7,153.9 L751.7,154.95 L751.7,152.85 Z" fill="#111"/>
<path d="M778.3,153.9 L785.3,152.85 L785.3,154.95 Z" fill="#111"/>
<line x1="758.7" y1="148" x2="758.7" y2="176" stroke="#666" stroke-width="0.55"/>
<line x1="778.3" y1="148" x2="778.3" y2="180" stroke="#666" stroke-width="0.55"/>
<text x="768.98" y="152.24" font-size="10.1" text-anchor="middle" fill="#111" letter-spacing="0.75">L6</text>
<clipPath id="c60_537"><circle cx="60.7" cy="537.2" r="10.5"/></clipPath>
<g clip-path="url(#c60_537)">
<line x1="26.69" y1="543.19" x2="66.69" y2="503.19" stroke="#222" stroke-width="0.8"/>
<line x1="29.49" y1="545.99" x2="69.49" y2="505.99" stroke="#222" stroke-width="0.8"/>
<line x1="32.29" y1="548.79" x2="72.29" y2="508.79" stroke="#222" stroke-width="0.8"/>
<line x1="35.1" y1="551.6" x2="75.1" y2="511.6" stroke="#222" stroke-width="0.8"/>
<line x1="37.9" y1="554.4" x2="77.9" y2="514.4" stroke="#222" stroke-width="0.8"/>
<line x1="40.7" y1="557.2" x2="80.7" y2="517.2" stroke="#222" stroke-width="0.8"/>
<line x1="43.5" y1="560" x2="83.5" y2="520" stroke="#222" stroke-width="0.8"/>
<line x1="46.3" y1="562.8" x2="86.3" y2="522.8" stroke="#222" stroke-width="0.8"/>
<line x1="49.11" y1="565.61" x2="89.11" y2="525.61" stroke="#222" stroke-width="0.8"/>
<line x1="51.91" y1="568.41" x2="91.91" y2="528.41" stroke="#222" stroke-width="0.8"/>
<line x1="54.71" y1="571.21" x2="94.71" y2="531.21" stroke="#222" stroke-width="0.8"/>
</g>
<circle cx="60.7" cy="537.2" r="10.5" fill="none" stroke="#1a1a1a" stroke-width="1.55"/>
<rect x="57.9" y="526.4" width="5.6" height="2.9" fill="#fff" stroke="#1a1a1a" stroke-width="0.8"/>
<g transform="translate(0 0)">
<text x="47.48" y="512.14" font-size="10.1" text-anchor="middle" fill="#111" letter-spacing="0.75">20</text>
<line x1="40.6" y1="516.1" x2="78.5" y2="516.1" stroke="#3c3c3c" stroke-width="0.7"/>
<path d="M58.2,516.1 L51.2,517.15 L51.2,515.05 Z" fill="#111"/>
<path d="M63.8,516.1 L70.8,515.05 L70.8,517.15 Z" fill="#111"/>
<line x1="58.2" y1="510" x2="58.2" y2="527" stroke="#666" stroke-width="0.55"/>
<line x1="63.8" y1="510" x2="63.8" y2="527" stroke="#666" stroke-width="0.55"/>
<line x1="63" y1="526.6" x2="95" y2="526.6" stroke="#666" stroke-width="0.55"/>
<line x1="60" y1="547.8" x2="95" y2="547.8" stroke="#666" stroke-width="0.55"/>
<line x1="90.3" y1="526.6" x2="90.3" y2="547.8" stroke="#3c3c3c" stroke-width="0.7"/>
<path d="M90.3,526.6 L91.35,533.6 L89.25,533.6 Z" fill="#111"/>
<path d="M90.3,547.8 L89.25,540.8 L91.35,540.8 Z" fill="#111"/>
<text x="87.03" y="536.8" font-size="9.8" text-anchor="middle" fill="#111" letter-spacing="0.1" transform="rotate(-90 87.03 536.8)">74.5</text>
</g>
<g transform="translate(0 0)">
<line x1="160" y1="537.9" x2="240" y2="537.9" stroke="#777" stroke-width="0.7" stroke-dasharray="1.2 2.2"/>
<line x1="236" y1="542.9" x2="372" y2="542.9" stroke="#777" stroke-width="0.7" stroke-dasharray="1.2 2.2"/>
<path d="M198.5,510.3 L262.7,510.3 L262.7,512.3 L281,512.3 L281,576.5 L262.7,576.5 L262.7,583.8 L235.7,583.8 L235.7,573.8 L210.7,573.8 L210.7,569.7 L198.5,569.7 Z" fill="#fff" fill-opacity="0.5" stroke="none"/>
<rect x="165.3" y="531.4" width="27.1" height="13.1" fill="none" stroke="#1a1a1a" stroke-width="1.45"/>
<path d="M192.4,497.4 L192.4,524.5 L195,526 C197,532 197,544 195,550 L192.4,551.5 L192.4,579.2 L198.5,579.2 L198.5,497.4 Z" fill="none" stroke="#1a1a1a" stroke-width="1.55" stroke-linejoin="round"/>
<path d="M198.5,514.3 L210.7,514.3 M198.5,552.8 L210,552.8 L210,569.7 L198.5,569.7" fill="none" stroke="#1a1a1a" stroke-width="1" stroke-linejoin="round"/>
<path d="M210.7,573 L210.7,510.3 L248.5,510.3" fill="none" stroke="#1a1a1a" stroke-width="1.55" stroke-linejoin="round"/>
<path d="M211.5,573.8 L235.7,573.8 L235.7,583.5 L248.5,583.5" fill="none" stroke="#1a1a1a" stroke-width="1.45" stroke-linejoin="round"/>
<line x1="212" y1="513.6" x2="248" y2="513.6" stroke="#777" stroke-width="0.5"/>
<line x1="235.7" y1="512" x2="235.7" y2="574" stroke="#3c3c3c" stroke-width="0.7"/>
<line x1="212" y1="538.6" x2="235" y2="538.6" stroke="#444" stroke-width="0.7"/>
<line x1="212" y1="541.6" x2="235" y2="541.6" stroke="#444" stroke-width="0.7"/>
<line x1="212" y1="544.6" x2="235" y2="544.6" stroke="#444" stroke-width="0.7"/>
<line x1="212" y1="547.6" x2="235" y2="547.6" stroke="#444" stroke-width="0.7"/>
<line x1="212" y1="550.6" x2="235" y2="550.6" stroke="#444" stroke-width="0.7"/>
<line x1="212" y1="553.6" x2="235" y2="553.6" stroke="#444" stroke-width="0.7"/>
<line x1="212" y1="556.6" x2="235" y2="556.6" stroke="#444" stroke-width="0.7"/>
<line x1="212" y1="559.6" x2="235" y2="559.6" stroke="#444" stroke-width="0.7"/>
<line x1="212" y1="562.6" x2="235" y2="562.6" stroke="#444" stroke-width="0.7"/>
<line x1="212" y1="565.6" x2="235" y2="565.6" stroke="#444" stroke-width="0.7"/>
<line x1="212" y1="568.6" x2="235" y2="568.6" stroke="#444" stroke-width="0.7"/>
<circle cx="216" cy="562.3" r="2.6" fill="none" stroke="#555" stroke-width="0.6"/>
<rect x="212.8" y="559.1" width="6.4" height="6.4" fill="none" stroke="#666" stroke-width="0.5"/>
<rect x="248.5" y="510.3" width="14.2" height="73.5" fill="none" stroke="#1a1a1a" stroke-width="1.45"/>
<line x1="251" y1="510.3" x2="251" y2="583.8" stroke="#777" stroke-width="0.5"/>
<circle cx="255.3" cy="503.5" r="6.8" fill="#fff" stroke="#1a1a1a" stroke-width="1.55"/>
<circle cx="255.3" cy="503.5" r="3.6" fill="none" stroke="#333" stroke-width="0.8"/>
<path d="M262.7,512.3 L272,512.3 L272,521 L281,521" fill="none" stroke="#1a1a1a" stroke-width="0.9" stroke-linejoin="round"/>
<path d="M262.7,576.5 L272,576.5 L272,565.7 L281,565.7" fill="none" stroke="#1a1a1a" stroke-width="0.9" stroke-linejoin="round"/>
<line x1="266" y1="513" x2="266" y2="576" stroke="#777" stroke-width="0.5"/>
</g>
<path d="M281,511.4 L359.8,511.4 L368.1,517.38 L368.1,569.72 L359.8,575.7 L281,575.7 Z" fill="#fff" fill-opacity="0.5" stroke="none"/>
<path d="M281,511.4 L359.8,511.4 L368.1,517.38 L368.1,569.72 L359.8,575.7 L281,575.7 Z" fill="none" stroke="#1a1a1a" stroke-width="1.3" stroke-linejoin="round"/>
<line x1="341.3" y1="511.4" x2="341.3" y2="575.7" stroke="#333" stroke-width="0.8"/>
<line x1="282.5" y1="516.4" x2="341.3" y2="516.4" stroke="#777" stroke-width="0.5"/>
<line x1="282.5" y1="570.7" x2="341.3" y2="570.7" stroke="#777" stroke-width="0.5"/>
<rect x="308.2" y="525.1" width="35.5" height="35.5" fill="none" stroke="#333" stroke-width="0.9"/>
<line x1="283" y1="527.6" x2="308.2" y2="527.6" stroke="#555" stroke-width="0.6"/>
<line x1="283" y1="531.1" x2="308.2" y2="531.1" stroke="#555" stroke-width="0.6"/>
<line x1="283" y1="534.6" x2="308.2" y2="534.6" stroke="#555" stroke-width="0.6"/>
<line x1="283" y1="538.1" x2="308.2" y2="538.1" stroke="#555" stroke-width="0.6"/>
<line x1="283" y1="541.6" x2="308.2" y2="541.6" stroke="#555" stroke-width="0.6"/>
<line x1="283" y1="545.1" x2="308.2" y2="545.1" stroke="#555" stroke-width="0.6"/>
<line x1="283" y1="548.6" x2="308.2" y2="548.6" stroke="#555" stroke-width="0.6"/>
<line x1="283" y1="552.1" x2="308.2" y2="552.1" stroke="#555" stroke-width="0.6"/>
<line x1="283" y1="555.6" x2="308.2" y2="555.6" stroke="#555" stroke-width="0.6"/>
<g transform="translate(0 0)">
<line x1="166" y1="460" x2="166" y2="531" stroke="#666" stroke-width="0.55"/>
<line x1="264.5" y1="460" x2="264.5" y2="497" stroke="#666" stroke-width="0.55"/>
<line x1="368.1" y1="460" x2="368.1" y2="511" stroke="#666" stroke-width="0.55"/>
<line x1="166" y1="466.5" x2="368.1" y2="466.5" stroke="#3c3c3c" stroke-width="0.7"/>
<path d="M166,466.5 L173,465.45 L173,467.55 Z" fill="#111"/>
<path d="M264.5,466.5 L257.5,467.55 L257.5,465.45 Z" fill="#111"/>
<path d="M264.5,466.5 L271.5,465.45 L271.5,467.55 Z" fill="#111"/>
<path d="M368.1,466.5 L361.1,467.55 L361.1,465.45 Z" fill="#111"/>
<text x="216.38" y="463.94" font-size="10.1" text-anchor="middle" fill="#111" letter-spacing="0.75">495</text>
<text x="315.68" y="463.94" font-size="10.1" text-anchor="middle" fill="#111" letter-spacing="0.75">L3</text>
<line x1="166" y1="487.3" x2="193.2" y2="487.3" stroke="#3c3c3c" stroke-width="0.7"/>
<path d="M166,487.3 L173,486.25 L173,488.35 Z" fill="#111"/>
<path d="M192.4,487.3 L185.4,488.35 L185.4,486.25 Z" fill="#111"/>
<line x1="192.4" y1="480" x2="192.4" y2="497" stroke="#666" stroke-width="0.55"/>
<line x1="198.5" y1="480" x2="198.5" y2="497" stroke="#666" stroke-width="0.55"/>
<line x1="198.5" y1="487.3" x2="213" y2="487.3" stroke="#3c3c3c" stroke-width="0.7"/>
<path d="M198.5,487.3 L205.5,486.25 L205.5,488.35 Z" fill="#111"/>
<text x="179.38" y="485.44" font-size="10.1" text-anchor="middle" fill="#111" letter-spacing="0.75">140</text>
<text x="207.18" y="485.44" font-size="10.1" text-anchor="middle" fill="#111" letter-spacing="0.75">20</text>
<line x1="115" y1="496.8" x2="192.4" y2="496.8" stroke="#666" stroke-width="0.55"/>
<line x1="115" y1="578.8" x2="192.4" y2="578.8" stroke="#666" stroke-width="0.55"/>
<line x1="120.3" y1="496.8" x2="120.3" y2="578.8" stroke="#3c3c3c" stroke-width="0.7"/>
<path d="M120.3,496.8 L121.35,503.8 L119.25,503.8 Z" fill="#111"/>
<path d="M120.3,578.8 L119.25,571.8 L121.35,571.8 Z" fill="#111"/>
<text x="117.64" y="537.38" font-size="10.1" text-anchor="middle" fill="#111" letter-spacing="0.75" transform="rotate(-90 117.64 537.38)"><tspan font-weight="bold" font-size="10.1">Φ</tspan><tspan dx="1.01">350</tspan></text>
<line x1="134" y1="508.6" x2="192.4" y2="508.6" stroke="#666" stroke-width="0.55"/>
<line x1="134" y1="567.7" x2="192.4" y2="567.7" stroke="#666" stroke-width="0.55"/>
<line x1="137.6" y1="508.6" x2="137.6" y2="567.7" stroke="#3c3c3c" stroke-width="0.7"/>
<path d="M137.6,508.6 L138.65,515.6 L136.55,515.6 Z" fill="#111"/>
<path d="M137.6,567.7 L136.55,560.7 L138.65,560.7 Z" fill="#111"/>
<text x="134.14" y="537.38" font-size="10.1" text-anchor="middle" fill="#111" letter-spacing="0.75" transform="rotate(-90 134.14 537.38)"><tspan font-weight="bold" font-size="10.1">Φ</tspan><tspan dx="1.01">250j6</tspan></text>
<line x1="150" y1="531.4" x2="165.3" y2="531.4" stroke="#666" stroke-width="0.55"/>
<line x1="150" y1="544.5" x2="165.3" y2="544.5" stroke="#666" stroke-width="0.55"/>
<line x1="153.4" y1="520" x2="153.4" y2="558.2" stroke="#3c3c3c" stroke-width="0.7"/>
<path d="M153.4,531.4 L152.35,524.4 L154.45,524.4 Z" fill="#111"/>
<path d="M153.4,544.5 L154.45,551.5 L152.35,551.5 Z" fill="#111"/>
<text x="150.64" y="511.88" font-size="10.1" text-anchor="middle" fill="#111" letter-spacing="0.75" transform="rotate(-90 150.64 511.88)"><tspan font-weight="bold" font-size="10.1">Φ</tspan><tspan dx="1.01">70k6</tspan></text>
<text x="142.68" y="596.84" font-size="10.1" text-anchor="middle" fill="#111" letter-spacing="0.75">M20</text>
<line x1="131.7" y1="597.6" x2="153" y2="597.6" stroke="#666" stroke-width="0.55"/>
<line x1="153" y1="597.6" x2="164.8" y2="545.2" stroke="#666" stroke-width="0.55"/>
<line x1="192.4" y1="579" x2="192.4" y2="602" stroke="#666" stroke-width="0.55"/>
<line x1="198.5" y1="579" x2="198.5" y2="590" stroke="#666" stroke-width="0.55"/>
<line x1="174.2" y1="596" x2="212" y2="596" stroke="#3c3c3c" stroke-width="0.7"/>
<path d="M192.4,596 L185.4,597.05 L185.4,594.95 Z" fill="#111"/>
<path d="M198.5,596 L205.5,594.95 L205.5,597.05 Z" fill="#111"/>
<text x="206.47" y="593.74" font-size="10.1" text-anchor="middle" fill="#111" letter-spacing="0.75">5</text>
<line x1="255" y1="496.8" x2="314" y2="496.8" stroke="#666" stroke-width="0.55"/>
<line x1="302.3" y1="496.8" x2="302.3" y2="542.9" stroke="#3c3c3c" stroke-width="0.7"/>
<path d="M302.3,496.8 L303.35,503.8 L301.25,503.8 Z" fill="#111"/>
<path d="M302.3,542.9 L301.25,535.9 L303.35,535.9 Z" fill="#111"/>
<text x="299.64" y="520.77" font-size="10.1" text-anchor="middle" fill="#111" letter-spacing="0.75" transform="rotate(-90 299.64 520.77)">224</text>
<line x1="227.6" y1="510.3" x2="227.6" y2="538" stroke="#3c3c3c" stroke-width="0.7"/>
<path d="M227.6,510.3 L228.65,517.3 L226.55,517.3 Z" fill="#111"/>
<path d="M227.6,538 L226.55,531 L228.65,531 Z" fill="#111"/>
<text x="225.14" y="523.38" font-size="10.1" text-anchor="middle" fill="#111" letter-spacing="0.75" transform="rotate(-90 225.14 523.38)">148</text>
<line x1="250.3" y1="517" x2="250.3" y2="552" stroke="#3c3c3c" stroke-width="0.7"/>
<path d="M250.3,528.5 L249.25,521.5 L251.35,521.5 Z" fill="#111"/>
<path d="M250.3,543.4 L251.35,550.4 L249.25,550.4 Z" fill="#111"/>
<text x="246.74" y="526.17" font-size="10.1" text-anchor="middle" fill="#111" letter-spacing="0.75" transform="rotate(-90 246.74 526.17)">20.4</text>
<text x="270.44" y="543.08" font-size="10.1" text-anchor="middle" fill="#111" letter-spacing="0.75" transform="rotate(-90 270.44 543.08)"><tspan font-weight="bold" font-size="10.1">Φ</tspan><tspan dx="1.01">350</tspan></text>
<line x1="359" y1="511.4" x2="395" y2="511.4" stroke="#666" stroke-width="0.55"/>
<line x1="359" y1="575.7" x2="395" y2="575.7" stroke="#666" stroke-width="0.55"/>
<line x1="389.8" y1="511" x2="389.8" y2="576" stroke="#3c3c3c" stroke-width="0.7"/>
<path d="M389.8,511 L390.85,518 L388.75,518 Z" fill="#111"/>
<path d="M389.8,576 L388.75,569 L390.85,569 Z" fill="#111"/>
<text x="386.34" y="544.38" font-size="10.1" text-anchor="middle" fill="#111" letter-spacing="0.75" transform="rotate(-90 386.34 544.38)">G</text>
</g>
<clipPath id="c60_824"><circle cx="60.7" cy="824.2" r="10.5"/></clipPath>
<g clip-path="url(#c60_824)">
<line x1="26.69" y1="830.19" x2="66.69" y2="790.19" stroke="#222" stroke-width="0.8"/>
<line x1="29.49" y1="832.99" x2="69.49" y2="792.99" stroke="#222" stroke-width="0.8"/>
<line x1="32.29" y1="835.79" x2="72.29" y2="795.79" stroke="#222" stroke-width="0.8"/>
<line x1="35.1" y1="838.6" x2="75.1" y2="798.6" stroke="#222" stroke-width="0.8"/>
<line x1="37.9" y1="841.4" x2="77.9" y2="801.4" stroke="#222" stroke-width="0.8"/>
<line x1="40.7" y1="844.2" x2="80.7" y2="804.2" stroke="#222" stroke-width="0.8"/>
<line x1="43.5" y1="847" x2="83.5" y2="807" stroke="#222" stroke-width="0.8"/>
<line x1="46.3" y1="849.8" x2="86.3" y2="809.8" stroke="#222" stroke-width="0.8"/>
<line x1="49.11" y1="852.61" x2="89.11" y2="812.61" stroke="#222" stroke-width="0.8"/>
<line x1="51.91" y1="855.41" x2="91.91" y2="815.41" stroke="#222" stroke-width="0.8"/>
<line x1="54.71" y1="858.21" x2="94.71" y2="818.21" stroke="#222" stroke-width="0.8"/>
</g>
<circle cx="60.7" cy="824.2" r="10.5" fill="none" stroke="#1a1a1a" stroke-width="1.55"/>
<rect x="57.9" y="813.4" width="5.6" height="2.9" fill="#fff" stroke="#1a1a1a" stroke-width="0.8"/>
<g transform="translate(0 287)">
<text x="47.48" y="512.14" font-size="10.1" text-anchor="middle" fill="#111" letter-spacing="0.75">20</text>
<line x1="40.6" y1="516.1" x2="78.5" y2="516.1" stroke="#3c3c3c" stroke-width="0.7"/>
<path d="M58.2,516.1 L51.2,517.15 L51.2,515.05 Z" fill="#111"/>
<path d="M63.8,516.1 L70.8,515.05 L70.8,517.15 Z" fill="#111"/>
<line x1="58.2" y1="510" x2="58.2" y2="527" stroke="#666" stroke-width="0.55"/>
<line x1="63.8" y1="510" x2="63.8" y2="527" stroke="#666" stroke-width="0.55"/>
<line x1="63" y1="526.6" x2="95" y2="526.6" stroke="#666" stroke-width="0.55"/>
<line x1="60" y1="547.8" x2="95" y2="547.8" stroke="#666" stroke-width="0.55"/>
<line x1="90.3" y1="526.6" x2="90.3" y2="547.8" stroke="#3c3c3c" stroke-width="0.7"/>
<path d="M90.3,526.6 L91.35,533.6 L89.25,533.6 Z" fill="#111"/>
<path d="M90.3,547.8 L89.25,540.8 L91.35,540.8 Z" fill="#111"/>
<text x="87.03" y="536.8" font-size="9.8" text-anchor="middle" fill="#111" letter-spacing="0.1" transform="rotate(-90 87.03 536.8)">74.5</text>
</g>
<g transform="translate(0 283.5)">
<line x1="160" y1="537.9" x2="240" y2="537.9" stroke="#777" stroke-width="0.7" stroke-dasharray="1.2 2.2"/>
<line x1="236" y1="542.9" x2="372" y2="542.9" stroke="#777" stroke-width="0.7" stroke-dasharray="1.2 2.2"/>
<path d="M198.5,510.3 L262.7,510.3 L262.7,512.3 L281,512.3 L281,576.5 L262.7,576.5 L262.7,583.8 L235.7,583.8 L235.7,573.8 L210.7,573.8 L210.7,569.7 L198.5,569.7 Z" fill="#fff" fill-opacity="0.5" stroke="none"/>
<rect x="165.3" y="531.4" width="27.1" height="13.1" fill="none" stroke="#1a1a1a" stroke-width="1.45"/>
<path d="M192.4,497.4 L192.4,524.5 L195,526 C197,532 197,544 195,550 L192.4,551.5 L192.4,579.2 L198.5,579.2 L198.5,497.4 Z" fill="none" stroke="#1a1a1a" stroke-width="1.55" stroke-linejoin="round"/>
<path d="M198.5,514.3 L210.7,514.3 M198.5,552.8 L210,552.8 L210,569.7 L198.5,569.7" fill="none" stroke="#1a1a1a" stroke-width="1" stroke-linejoin="round"/>
<path d="M210.7,573 L210.7,510.3 L248.5,510.3" fill="none" stroke="#1a1a1a" stroke-width="1.55" stroke-linejoin="round"/>
<path d="M211.5,573.8 L235.7,573.8 L235.7,583.5 L248.5,583.5" fill="none" stroke="#1a1a1a" stroke-width="1.45" stroke-linejoin="round"/>
<line x1="212" y1="513.6" x2="248" y2="513.6" stroke="#777" stroke-width="0.5"/>
<line x1="235.7" y1="512" x2="235.7" y2="574" stroke="#3c3c3c" stroke-width="0.7"/>
<line x1="212" y1="538.6" x2="235" y2="538.6" stroke="#444" stroke-width="0.7"/>
<line x1="212" y1="541.6" x2="235" y2="541.6" stroke="#444" stroke-width="0.7"/>
<line x1="212" y1="544.6" x2="235" y2="544.6" stroke="#444" stroke-width="0.7"/>
<line x1="212" y1="547.6" x2="235" y2="547.6" stroke="#444" stroke-width="0.7"/>
<line x1="212" y1="550.6" x2="235" y2="550.6" stroke="#444" stroke-width="0.7"/>
<line x1="212" y1="553.6" x2="235" y2="553.6" stroke="#444" stroke-width="0.7"/>
<line x1="212" y1="556.6" x2="235" y2="556.6" stroke="#444" stroke-width="0.7"/>
<line x1="212" y1="559.6" x2="235" y2="559.6" stroke="#444" stroke-width="0.7"/>
<line x1="212" y1="562.6" x2="235" y2="562.6" stroke="#444" stroke-width="0.7"/>
<line x1="212" y1="565.6" x2="235" y2="565.6" stroke="#444" stroke-width="0.7"/>
<line x1="212" y1="568.6" x2="235" y2="568.6" stroke="#444" stroke-width="0.7"/>
<circle cx="216" cy="562.3" r="2.6" fill="none" stroke="#555" stroke-width="0.6"/>
<rect x="212.8" y="559.1" width="6.4" height="6.4" fill="none" stroke="#666" stroke-width="0.5"/>
<rect x="248.5" y="510.3" width="14.2" height="73.5" fill="none" stroke="#1a1a1a" stroke-width="1.45"/>
<line x1="251" y1="510.3" x2="251" y2="583.8" stroke="#777" stroke-width="0.5"/>
<circle cx="255.3" cy="503.5" r="6.8" fill="#fff" stroke="#1a1a1a" stroke-width="1.55"/>
<circle cx="255.3" cy="503.5" r="3.6" fill="none" stroke="#333" stroke-width="0.8"/>
<path d="M262.7,512.3 L272,512.3 L272,521 L281,521" fill="none" stroke="#1a1a1a" stroke-width="0.9" stroke-linejoin="round"/>
<path d="M262.7,576.5 L272,576.5 L272,565.7 L281,565.7" fill="none" stroke="#1a1a1a" stroke-width="0.9" stroke-linejoin="round"/>
<line x1="266" y1="513" x2="266" y2="576" stroke="#777" stroke-width="0.5"/>
</g>
<path d="M281,794.9 L359.8,794.9 L368.1,800.88 L368.1,853.22 L359.8,859.2 L281,859.2 Z" fill="#fff" fill-opacity="0.5" stroke="none"/>
<path d="M281,794.9 L359.8,794.9 L368.1,800.88 L368.1,853.22 L359.8,859.2 L281,859.2 Z" fill="none" stroke="#1a1a1a" stroke-width="1.3" stroke-linejoin="round"/>
<line x1="341.3" y1="794.9" x2="341.3" y2="859.2" stroke="#333" stroke-width="0.8"/>
<line x1="282.5" y1="799.9" x2="341.3" y2="799.9" stroke="#777" stroke-width="0.5"/>
<line x1="282.5" y1="854.2" x2="341.3" y2="854.2" stroke="#777" stroke-width="0.5"/>
<rect x="308.2" y="808.6" width="35.5" height="35.5" fill="none" stroke="#333" stroke-width="0.9"/>
<line x1="283" y1="811.1" x2="308.2" y2="811.1" stroke="#555" stroke-width="0.6"/>
<line x1="283" y1="814.6" x2="308.2" y2="814.6" stroke="#555" stroke-width="0.6"/>
<line x1="283" y1="818.1" x2="308.2" y2="818.1" stroke="#555" stroke-width="0.6"/>
<line x1="283" y1="821.6" x2="308.2" y2="821.6" stroke="#555" stroke-width="0.6"/>
<line x1="283" y1="825.1" x2="308.2" y2="825.1" stroke="#555" stroke-width="0.6"/>
<line x1="283" y1="828.6" x2="308.2" y2="828.6" stroke="#555" stroke-width="0.6"/>
<line x1="283" y1="832.1" x2="308.2" y2="832.1" stroke="#555" stroke-width="0.6"/>
<line x1="283" y1="835.6" x2="308.2" y2="835.6" stroke="#555" stroke-width="0.6"/>
<line x1="283" y1="839.1" x2="308.2" y2="839.1" stroke="#555" stroke-width="0.6"/>
<g transform="translate(0 283.5)">
<line x1="166" y1="460" x2="166" y2="531" stroke="#666" stroke-width="0.55"/>
<line x1="264.5" y1="460" x2="264.5" y2="497" stroke="#666" stroke-width="0.55"/>
<line x1="368.1" y1="460" x2="368.1" y2="511" stroke="#666" stroke-width="0.55"/>
<line x1="166" y1="466.5" x2="368.1" y2="466.5" stroke="#3c3c3c" stroke-width="0.7"/>
<path d="M166,466.5 L173,465.45 L173,467.55 Z" fill="#111"/>
<path d="M264.5,466.5 L257.5,467.55 L257.5,465.45 Z" fill="#111"/>
<path d="M264.5,466.5 L271.5,465.45 L271.5,467.55 Z" fill="#111"/>
<path d="M368.1,466.5 L361.1,467.55 L361.1,465.45 Z" fill="#111"/>
<text x="216.38" y="463.94" font-size="10.1" text-anchor="middle" fill="#111" letter-spacing="0.75">495</text>
<text x="315.68" y="463.94" font-size="10.1" text-anchor="middle" fill="#111" letter-spacing="0.75">L3</text>
<line x1="166" y1="487.3" x2="193.2" y2="487.3" stroke="#3c3c3c" stroke-width="0.7"/>
<path d="M166,487.3 L173,486.25 L173,488.35 Z" fill="#111"/>
<path d="M192.4,487.3 L185.4,488.35 L185.4,486.25 Z" fill="#111"/>
<line x1="192.4" y1="480" x2="192.4" y2="497" stroke="#666" stroke-width="0.55"/>
<line x1="198.5" y1="480" x2="198.5" y2="497" stroke="#666" stroke-width="0.55"/>
<line x1="198.5" y1="487.3" x2="213" y2="487.3" stroke="#3c3c3c" stroke-width="0.7"/>
<path d="M198.5,487.3 L205.5,486.25 L205.5,488.35 Z" fill="#111"/>
<text x="179.38" y="485.44" font-size="10.1" text-anchor="middle" fill="#111" letter-spacing="0.75">140</text>
<text x="207.18" y="485.44" font-size="10.1" text-anchor="middle" fill="#111" letter-spacing="0.75">22</text>
<line x1="115" y1="496.8" x2="192.4" y2="496.8" stroke="#666" stroke-width="0.55"/>
<line x1="115" y1="578.8" x2="192.4" y2="578.8" stroke="#666" stroke-width="0.55"/>
<line x1="120.3" y1="496.8" x2="120.3" y2="578.8" stroke="#3c3c3c" stroke-width="0.7"/>
<path d="M120.3,496.8 L121.35,503.8 L119.25,503.8 Z" fill="#111"/>
<path d="M120.3,578.8 L119.25,571.8 L121.35,571.8 Z" fill="#111"/>
<text x="117.64" y="537.38" font-size="10.1" text-anchor="middle" fill="#111" letter-spacing="0.75" transform="rotate(-90 117.64 537.38)"><tspan font-weight="bold" font-size="10.1">Φ</tspan><tspan dx="1.01">450</tspan></text>
<line x1="134" y1="508.6" x2="192.4" y2="508.6" stroke="#666" stroke-width="0.55"/>
<line x1="134" y1="567.7" x2="192.4" y2="567.7" stroke="#666" stroke-width="0.55"/>
<line x1="137.6" y1="508.6" x2="137.6" y2="567.7" stroke="#3c3c3c" stroke-width="0.7"/>
<path d="M137.6,508.6 L138.65,515.6 L136.55,515.6 Z" fill="#111"/>
<path d="M137.6,567.7 L136.55,560.7 L138.65,560.7 Z" fill="#111"/>
<text x="134.14" y="537.38" font-size="10.1" text-anchor="middle" fill="#111" letter-spacing="0.75" transform="rotate(-90 134.14 537.38)"><tspan font-weight="bold" font-size="10.1">Φ</tspan><tspan dx="1.01">350j6</tspan></text>
<line x1="150" y1="531.4" x2="165.3" y2="531.4" stroke="#666" stroke-width="0.55"/>
<line x1="150" y1="544.5" x2="165.3" y2="544.5" stroke="#666" stroke-width="0.55"/>
<line x1="153.4" y1="520" x2="153.4" y2="558.2" stroke="#3c3c3c" stroke-width="0.7"/>
<path d="M153.4,531.4 L152.35,524.4 L154.45,524.4 Z" fill="#111"/>
<path d="M153.4,544.5 L154.45,551.5 L152.35,551.5 Z" fill="#111"/>
<text x="150.64" y="511.88" font-size="10.1" text-anchor="middle" fill="#111" letter-spacing="0.75" transform="rotate(-90 150.64 511.88)"><tspan font-weight="bold" font-size="10.1">Φ</tspan><tspan dx="1.01">70k6</tspan></text>
<text x="142.68" y="596.84" font-size="10.1" text-anchor="middle" fill="#111" letter-spacing="0.75">M20</text>
<line x1="131.7" y1="597.6" x2="153" y2="597.6" stroke="#666" stroke-width="0.55"/>
<line x1="153" y1="597.6" x2="164.8" y2="545.2" stroke="#666" stroke-width="0.55"/>
<line x1="192.4" y1="579" x2="192.4" y2="602" stroke="#666" stroke-width="0.55"/>
<line x1="198.5" y1="579" x2="198.5" y2="590" stroke="#666" stroke-width="0.55"/>
<line x1="174.2" y1="596" x2="212" y2="596" stroke="#3c3c3c" stroke-width="0.7"/>
<path d="M192.4,596 L185.4,597.05 L185.4,594.95 Z" fill="#111"/>
<path d="M198.5,596 L205.5,594.95 L205.5,597.05 Z" fill="#111"/>
<text x="206.47" y="593.74" font-size="10.1" text-anchor="middle" fill="#111" letter-spacing="0.75">5</text>
<line x1="255" y1="496.8" x2="314" y2="496.8" stroke="#666" stroke-width="0.55"/>
<line x1="302.3" y1="496.8" x2="302.3" y2="542.9" stroke="#3c3c3c" stroke-width="0.7"/>
<path d="M302.3,496.8 L303.35,503.8 L301.25,503.8 Z" fill="#111"/>
<path d="M302.3,542.9 L301.25,535.9 L303.35,535.9 Z" fill="#111"/>
<text x="299.64" y="520.77" font-size="10.1" text-anchor="middle" fill="#111" letter-spacing="0.75" transform="rotate(-90 299.64 520.77)">224</text>
<line x1="227.6" y1="510.3" x2="227.6" y2="538" stroke="#3c3c3c" stroke-width="0.7"/>
<path d="M227.6,510.3 L228.65,517.3 L226.55,517.3 Z" fill="#111"/>
<path d="M227.6,538 L226.55,531 L228.65,531 Z" fill="#111"/>
<text x="225.14" y="523.38" font-size="10.1" text-anchor="middle" fill="#111" letter-spacing="0.75" transform="rotate(-90 225.14 523.38)">148</text>
<line x1="250.3" y1="517" x2="250.3" y2="552" stroke="#3c3c3c" stroke-width="0.7"/>
<path d="M250.3,528.5 L249.25,521.5 L251.35,521.5 Z" fill="#111"/>
<path d="M250.3,543.4 L251.35,550.4 L249.25,550.4 Z" fill="#111"/>
<text x="246.74" y="526.17" font-size="10.1" text-anchor="middle" fill="#111" letter-spacing="0.75" transform="rotate(-90 246.74 526.17)">20.4</text>
<text x="270.44" y="543.08" font-size="10.1" text-anchor="middle" fill="#111" letter-spacing="0.75" transform="rotate(-90 270.44 543.08)"><tspan font-weight="bold" font-size="10.1">Φ</tspan><tspan dx="1.01">350</tspan></text>
<line x1="359" y1="511.4" x2="395" y2="511.4" stroke="#666" stroke-width="0.55"/>
<line x1="359" y1="575.7" x2="395" y2="575.7" stroke="#666" stroke-width="0.55"/>
<line x1="389.8" y1="511" x2="389.8" y2="576" stroke="#3c3c3c" stroke-width="0.7"/>
<path d="M389.8,511 L390.85,518 L388.75,518 Z" fill="#111"/>
<path d="M389.8,576 L388.75,569 L390.85,569 Z" fill="#111"/>
<text x="386.34" y="544.38" font-size="10.1" text-anchor="middle" fill="#111" letter-spacing="0.75" transform="rotate(-90 386.34 544.38)">G</text>
</g>
<path d="M454.1,560.9 L455.5,568.8 L466,585.3 L518.8,585.3 L527.7,568.8 L529,560.9 Z" fill="#fff" fill-opacity="0.5" stroke="none"/>
<path d="M454.1,560.9 L455.5,568.8 L466,585.3 L518.8,585.3 L527.7,568.8 L529,560.9" fill="none" stroke="#1a1a1a" stroke-width="1.55" stroke-linejoin="round"/>
<path d="M460.7,563.8 L469.7,578.8 L481.7,578.8" fill="none" stroke="#3c3c3c" stroke-width="0.7" stroke-linejoin="round"/>
<path d="M522.7,563.8 L513.7,578.8 L501.7,578.8" fill="none" stroke="#3c3c3c" stroke-width="0.7" stroke-linejoin="round"/>
<circle cx="491.7" cy="538.8" r="40.6" fill="#fff" fill-opacity="0.5" stroke="none"/>
<circle cx="491.7" cy="538.8" r="40.6" fill="none" stroke="#1a1a1a" stroke-width="1.8"/>
<path d="M488.5,498.4 a3.2,3.2 0 0 1 6.4,0" fill="#fff" stroke="#1a1a1a" stroke-width="1.3" stroke-linejoin="round"/>
<circle cx="491.7" cy="538.8" r="35.5" fill="none" stroke="#666" stroke-width="0.7" stroke-dasharray="1.5 1.5"/>
<circle cx="491.7" cy="538.8" r="29.2" fill="none" stroke="#333" stroke-width="0.9"/>
<circle cx="491.7" cy="538.8" r="5.2" fill="none" stroke="#444" stroke-width="0.8"/>
<line x1="447.7" y1="538.8" x2="535.7" y2="538.8" stroke="#777" stroke-width="0.6" stroke-dasharray="1.2 2"/>
<line x1="491.7" y1="494.8" x2="491.7" y2="586.8" stroke="#777" stroke-width="0.6" stroke-dasharray="1.2 2"/>
<circle cx="516.1" cy="563.2" r="2.4" fill="none" stroke="#333" stroke-width="0.8"/>
<circle cx="467.3" cy="563.2" r="2.4" fill="none" stroke="#333" stroke-width="0.8"/>
<circle cx="467.3" cy="514.4" r="2.4" fill="none" stroke="#333" stroke-width="0.8"/>
<circle cx="516.1" cy="514.4" r="2.4" fill="none" stroke="#333" stroke-width="0.8"/>
<line x1="467.09" y1="563.41" x2="516.31" y2="514.19" stroke="#222" stroke-width="0.7"/>
<path d="M467.09,563.41 L471.3,557.72 L472.78,559.2 Z" fill="#111"/>
<path d="M516.31,514.19 L512.1,519.88 L510.62,518.4 Z" fill="#111"/>
<text x="478.8" y="548.4" font-size="11.5" text-anchor="middle" fill="#111" transform="rotate(-45 478.8 548.4)"><tspan font-weight="bold" font-size="11.5">Φ</tspan><tspan dx="1.15">300</tspan></text>
<line x1="464.4" y1="480.5" x2="464.4" y2="514.2" stroke="#666" stroke-width="0.55"/>
<line x1="469.2" y1="480.5" x2="469.2" y2="514.2" stroke="#666" stroke-width="0.55"/>
<line x1="446.3" y1="486.5" x2="531.7" y2="486.5" stroke="#3c3c3c" stroke-width="0.7"/>
<path d="M464.4,486.5 L457.4,487.55 L457.4,485.45 Z" fill="#111"/>
<path d="M469.2,486.5 L476.2,485.45 L476.2,487.55 Z" fill="#111"/>
<text x="472.8" y="482.9" font-size="10.1" text-anchor="start" fill="#111" letter-spacing="0.75">4–<tspan font-weight="bold" font-size="10.1">Φ</tspan><tspan dx="1.01">17.5</tspan></text>
<line x1="430.7" y1="538.8" x2="451.7" y2="538.8" stroke="#666" stroke-width="0.55"/>
<line x1="430.7" y1="585.3" x2="466.7" y2="585.3" stroke="#666" stroke-width="0.55"/>
<line x1="434.4" y1="538.8" x2="434.4" y2="585.3" stroke="#3c3c3c" stroke-width="0.7"/>
<path d="M434.4,538.8 L435.45,545.8 L433.35,545.8 Z" fill="#111"/>
<path d="M434.4,585.3 L433.35,578.3 L435.45,578.3 Z" fill="#111"/>
<text x="431.74" y="562.88" font-size="10.1" text-anchor="middle" fill="#111" letter-spacing="0.75" transform="rotate(-90 431.74 562.88)">255</text>
<line x1="453.4" y1="560.8" x2="453.4" y2="606.8" stroke="#666" stroke-width="0.55"/>
<line x1="529.8" y1="560.8" x2="529.8" y2="606.8" stroke="#666" stroke-width="0.55"/>
<line x1="453.4" y1="602.7" x2="529.8" y2="602.7" stroke="#3c3c3c" stroke-width="0.7"/>
<path d="M453.4,602.7 L460.4,601.65 L460.4,603.75 Z" fill="#111"/>
<path d="M529.8,602.7 L522.8,603.75 L522.8,601.65 Z" fill="#111"/>
<text x="491.57" y="599.64" font-size="10.1" text-anchor="middle" fill="#111" letter-spacing="0.75">430</text>
<path d="M453.6,844.1 L455,852 L465.5,868.5 L518.3,868.5 L527.2,852 L528.5,844.1 Z" fill="#fff" fill-opacity="0.5" stroke="none"/>
<path d="M453.6,844.1 L455,852 L465.5,868.5 L518.3,868.5 L527.2,852 L528.5,844.1" fill="none" stroke="#1a1a1a" stroke-width="1.55" stroke-linejoin="round"/>
<path d="M460.2,847 L469.2,862 L481.2,862" fill="none" stroke="#3c3c3c" stroke-width="0.7" stroke-linejoin="round"/>
<path d="M522.2,847 L513.2,862 L501.2,862" fill="none" stroke="#3c3c3c" stroke-width="0.7" stroke-linejoin="round"/>
<circle cx="491.2" cy="822" r="40.6" fill="#fff" fill-opacity="0.5" stroke="none"/>
<circle cx="491.2" cy="822" r="40.6" fill="none" stroke="#1a1a1a" stroke-width="1.8"/>
<path d="M488,781.6 a3.2,3.2 0 0 1 6.4,0" fill="#fff" stroke="#1a1a1a" stroke-width="1.3" stroke-linejoin="round"/>
<circle cx="491.2" cy="822" r="35.5" fill="none" stroke="#666" stroke-width="0.7" stroke-dasharray="1.5 1.5"/>
<circle cx="491.2" cy="822" r="29.2" fill="none" stroke="#333" stroke-width="0.9"/>
<circle cx="491.2" cy="822" r="5.2" fill="none" stroke="#444" stroke-width="0.8"/>
<line x1="447.2" y1="822" x2="535.2" y2="822" stroke="#777" stroke-width="0.6" stroke-dasharray="1.2 2"/>
<line x1="491.2" y1="778" x2="491.2" y2="870" stroke="#777" stroke-width="0.6" stroke-dasharray="1.2 2"/>
<circle cx="523.07" cy="835.2" r="2.4" fill="none" stroke="#333" stroke-width="0.8"/>
<circle cx="504.4" cy="853.87" r="2.4" fill="none" stroke="#333" stroke-width="0.8"/>
<circle cx="478" cy="853.87" r="2.4" fill="none" stroke="#333" stroke-width="0.8"/>
<circle cx="459.33" cy="835.2" r="2.4" fill="none" stroke="#333" stroke-width="0.8"/>
<circle cx="459.33" cy="808.8" r="2.4" fill="none" stroke="#333" stroke-width="0.8"/>
<circle cx="478" cy="790.13" r="2.4" fill="none" stroke="#333" stroke-width="0.8"/>
<circle cx="504.4" cy="790.13" r="2.4" fill="none" stroke="#333" stroke-width="0.8"/>
<circle cx="523.07" cy="808.8" r="2.4" fill="none" stroke="#333" stroke-width="0.8"/>
<line x1="469.54" y1="849.23" x2="512.86" y2="794.77" stroke="#222" stroke-width="0.7"/>
<path d="M469.54,849.23 L473.07,843.1 L474.72,844.41 Z" fill="#111"/>
<path d="M512.86,794.77 L509.33,800.9 L507.68,799.59 Z" fill="#111"/>
<text x="479" y="833.2" font-size="11.5" text-anchor="middle" fill="#111" transform="rotate(-51.5 479 833.2)"><tspan font-weight="bold" font-size="11.5">Φ</tspan><tspan dx="1.15">400</tspan></text>
<line x1="473.7" y1="754.5" x2="473.7" y2="790.5" stroke="#666" stroke-width="0.55"/>
<line x1="478.5" y1="754.5" x2="478.5" y2="790.5" stroke="#666" stroke-width="0.55"/>
<line x1="456.5" y1="760.5" x2="531.2" y2="760.5" stroke="#3c3c3c" stroke-width="0.7"/>
<path d="M473.7,760.5 L466.7,761.55 L466.7,759.45 Z" fill="#111"/>
<path d="M478.5,760.5 L485.5,759.45 L485.5,761.55 Z" fill="#111"/>
<text x="482.1" y="756.9" font-size="10.1" text-anchor="start" fill="#111" letter-spacing="0.75">8–<tspan font-weight="bold" font-size="10.1">Φ</tspan><tspan dx="1.01">17.5</tspan></text>
<line x1="430.2" y1="822" x2="451.2" y2="822" stroke="#666" stroke-width="0.55"/>
<line x1="430.2" y1="868.5" x2="466.2" y2="868.5" stroke="#666" stroke-width="0.55"/>
<line x1="433.9" y1="822" x2="433.9" y2="868.5" stroke="#3c3c3c" stroke-width="0.7"/>
<path d="M433.9,822 L434.95,829 L432.85,829 Z" fill="#111"/>
<path d="M433.9,868.5 L432.85,861.5 L434.95,861.5 Z" fill="#111"/>
<text x="431.24" y="846.08" font-size="10.1" text-anchor="middle" fill="#111" letter-spacing="0.75" transform="rotate(-90 431.24 846.08)">255</text>
<line x1="452.9" y1="844" x2="452.9" y2="890" stroke="#666" stroke-width="0.55"/>
<line x1="529.3" y1="844" x2="529.3" y2="890" stroke="#666" stroke-width="0.55"/>
<line x1="452.9" y1="885.9" x2="529.3" y2="885.9" stroke="#3c3c3c" stroke-width="0.7"/>
<path d="M452.9,885.9 L459.9,884.85 L459.9,886.95 Z" fill="#111"/>
<path d="M529.3,885.9 L522.3,886.95 L522.3,884.85 Z" fill="#111"/>
<text x="491.07" y="882.84" font-size="10.1" text-anchor="middle" fill="#111" letter-spacing="0.75">430</text>
<line x1="615" y1="424.9" x2="700" y2="424.9" stroke="#777" stroke-width="0.7" stroke-dasharray="1.2 2.2"/>
<line x1="700" y1="429.4" x2="800" y2="429.4" stroke="#777" stroke-width="0.7" stroke-dasharray="1.2 2.2"/>
<g transform="translate(470.7 253.4) translate(151 0) scale(1.03 1) translate(-151 0)">
<path d="M151,164.5 L176.7,164.5 L176.7,160 L180,151.6 L195.3,150.3 L195.3,143.7 L233.3,142.4 L249,142.4 L249,207.4 L261.6,207.4 L261.6,216.7 L182,216.7 L182,207.4 L194.3,207.4 L194.3,191.9 L180,191.9 L176.7,184 L176.7,178.5 L151,178.5 Z" fill="#fff" fill-opacity="0.5" stroke="none"/>
<rect x="151" y="164.5" width="25.7" height="14" fill="none" stroke="#1a1a1a" stroke-width="1.45"/>
<path d="M195.3,150.3 L180,151.6 C177.8,153.5 176.8,157 176.6,162 L176.6,182 C176.8,186.5 177.8,190 180,191.9 L194.3,191.9" fill="none" stroke="#1a1a1a" stroke-width="1.45" stroke-linejoin="round"/>
<line x1="180" y1="158.4" x2="195.3" y2="157.5" stroke="#3c3c3c" stroke-width="0.7"/>
<line x1="180" y1="185.5" x2="194.3" y2="186" stroke="#3c3c3c" stroke-width="0.7"/>
<line x1="177.8" y1="160" x2="177.8" y2="184" stroke="#999" stroke-width="1.6"/>
<path d="M195.3,150.3 L195.3,143.7 L231,143.7 L233.3,142.4" fill="none" stroke="#1a1a1a" stroke-width="1.55" stroke-linejoin="round"/>
<path d="M194.3,191.9 L194.3,207.4" fill="none" stroke="#1a1a1a" stroke-width="1.45" stroke-linejoin="round"/>
<line x1="197.5" y1="146.5" x2="231" y2="146.5" stroke="#777" stroke-width="0.5"/>
<line x1="220.2" y1="150" x2="220.2" y2="205" stroke="#3c3c3c" stroke-width="0.7"/>
<line x1="197.4" y1="175.7" x2="219.7" y2="175.7" stroke="#444" stroke-width="0.7"/>
<line x1="197.4" y1="179.7" x2="219.7" y2="179.7" stroke="#444" stroke-width="0.7"/>
<line x1="197.4" y1="183.8" x2="219.7" y2="183.8" stroke="#444" stroke-width="0.7"/>
<line x1="197.4" y1="187.8" x2="219.7" y2="187.8" stroke="#444" stroke-width="0.7"/>
<line x1="206.5" y1="191.4" x2="219.7" y2="191.4" stroke="#444" stroke-width="0.7"/>
<line x1="206.5" y1="195.5" x2="219.7" y2="195.5" stroke="#444" stroke-width="0.7"/>
<line x1="206.5" y1="199.5" x2="219.7" y2="199.5" stroke="#444" stroke-width="0.7"/>
<line x1="206.5" y1="203.5" x2="219.7" y2="203.5" stroke="#444" stroke-width="0.7"/>
<circle cx="200.4" cy="195" r="2.6" fill="none" stroke="#555" stroke-width="0.6"/>
<line x1="197.5" y1="195" x2="203.3" y2="195" stroke="#555" stroke-width="0.5"/>
<line x1="200.4" y1="192.1" x2="200.4" y2="197.9" stroke="#555" stroke-width="0.5"/>
<rect x="232.3" y="142.4" width="16.7" height="74.3" fill="none" stroke="#1a1a1a" stroke-width="1.45"/>
<line x1="234.9" y1="142.4" x2="234.9" y2="216.7" stroke="#3c3c3c" stroke-width="0.7"/>
<circle cx="240.4" cy="137.7" r="7.4" fill="#fff" stroke="#1a1a1a" stroke-width="1.55"/>
<circle cx="240.4" cy="137.7" r="4.4" fill="none" stroke="#333" stroke-width="0.8"/>
<path d="M194.3,207.4 L182,207.4 L182,216.7 L261.6,216.7 L261.6,207.4 L249,207.4" fill="none" stroke="#1a1a1a" stroke-width="1.45" stroke-linejoin="round"/>
<line x1="184" y1="210" x2="232" y2="210" stroke="#777" stroke-width="0.5"/>
</g>
<path d="M722.2,397 L728.6,397 L728.6,460 L722.2,460" fill="none" stroke="#1a1a1a" stroke-width="1.3" stroke-linejoin="round"/>
<path d="M728.6,409.8 L749.3,413.8 L749.3,445 L728.6,449.7" fill="none" stroke="#1a1a1a" stroke-width="1.3" stroke-linejoin="round"/>
<line x1="731.5" y1="411" x2="731.5" y2="448" stroke="#777" stroke-width="0.5"/>
<rect x="749.3" y="425.2" width="3.2" height="9.2" fill="none" stroke="#1a1a1a" stroke-width="0.9"/>
<rect x="752.5" y="423.7" width="17.5" height="11.7" fill="none" stroke="#1a1a1a" stroke-width="1.3"/>
<line x1="722.7" y1="360" x2="722.7" y2="397" stroke="#666" stroke-width="0.55"/>
<line x1="770" y1="360" x2="770" y2="423" stroke="#666" stroke-width="0.55"/>
<line x1="750.9" y1="380" x2="750.9" y2="425" stroke="#666" stroke-width="0.55"/>
<line x1="722.7" y1="367.2" x2="770" y2="367.2" stroke="#3c3c3c" stroke-width="0.7"/>
<path d="M722.7,367.2 L729.7,366.15 L729.7,368.25 Z" fill="#111"/>
<path d="M770,367.2 L763,368.25 L763,366.15 Z" fill="#111"/>
<text x="746.38" y="365.14" font-size="10.1" text-anchor="middle" fill="#111" letter-spacing="0.75">270</text>
<line x1="737.3" y1="384" x2="783.6" y2="384" stroke="#3c3c3c" stroke-width="0.7"/>
<path d="M750.9,384 L743.9,385.05 L743.9,382.95 Z" fill="#111"/>
<path d="M770,384 L777,382.95 L777,385.05 Z" fill="#111"/>
<text x="759.88" y="381.94" font-size="10.1" text-anchor="middle" fill="#111" letter-spacing="0.75">110</text>
<line x1="770" y1="423.7" x2="791" y2="423.7" stroke="#666" stroke-width="0.55"/>
<line x1="770" y1="435.4" x2="791" y2="435.4" stroke="#666" stroke-width="0.55"/>
<line x1="786.8" y1="410" x2="786.8" y2="447.3" stroke="#3c3c3c" stroke-width="0.7"/>
<path d="M786.8,423.7 L785.75,416.7 L787.85,416.7 Z" fill="#111"/>
<path d="M786.8,435.4 L787.85,442.4 L785.75,442.4 Z" fill="#111"/>
<text x="784.64" y="407.68" font-size="10.1" text-anchor="middle" fill="#111" letter-spacing="0.75" transform="rotate(-90 784.64 407.68)"><tspan font-weight="bold" font-size="10.1">Φ</tspan><tspan dx="1.01">42k6</tspan></text>
<line x1="728.6" y1="397" x2="814" y2="397" stroke="#666" stroke-width="0.55"/>
<line x1="728.6" y1="460" x2="814" y2="460" stroke="#666" stroke-width="0.55"/>
<line x1="806" y1="397" x2="806" y2="460" stroke="#3c3c3c" stroke-width="0.7"/>
<path d="M806,397 L807.05,404 L804.95,404 Z" fill="#111"/>
<path d="M806,460 L804.95,453 L807.05,453 Z" fill="#111"/>
<text x="803.44" y="429.77" font-size="10.1" text-anchor="middle" fill="#111" letter-spacing="0.75" transform="rotate(-90 803.44 429.77)"><tspan font-weight="bold" font-size="10.1">Φ</tspan><tspan dx="1.01">350</tspan></text>
<line x1="770" y1="435.4" x2="778" y2="478.5" stroke="#666" stroke-width="0.55"/>
<line x1="778" y1="478.5" x2="793.2" y2="478.5" stroke="#666" stroke-width="0.55"/>
<text x="791.17" y="477.74" font-size="10.1" text-anchor="middle" fill="#111" letter-spacing="0.75">M16</text>
<clipPath id="c782_521"><circle cx="782.9" cy="521.5" r="9.7"/></clipPath>
<g clip-path="url(#c782_521)">
<line x1="749.96" y1="528.56" x2="789.96" y2="488.56" stroke="#222" stroke-width="0.8"/>
<line x1="752.55" y1="531.15" x2="792.55" y2="491.15" stroke="#222" stroke-width="0.8"/>
<line x1="755.14" y1="533.74" x2="795.14" y2="493.74" stroke="#222" stroke-width="0.8"/>
<line x1="757.72" y1="536.32" x2="797.72" y2="496.32" stroke="#222" stroke-width="0.8"/>
<line x1="760.31" y1="538.91" x2="800.31" y2="498.91" stroke="#222" stroke-width="0.8"/>
<line x1="762.9" y1="541.5" x2="802.9" y2="501.5" stroke="#222" stroke-width="0.8"/>
<line x1="765.49" y1="544.09" x2="805.49" y2="504.09" stroke="#222" stroke-width="0.8"/>
<line x1="768.08" y1="546.68" x2="808.08" y2="506.68" stroke="#222" stroke-width="0.8"/>
<line x1="770.66" y1="549.26" x2="810.66" y2="509.26" stroke="#222" stroke-width="0.8"/>
<line x1="773.25" y1="551.85" x2="813.25" y2="511.85" stroke="#222" stroke-width="0.8"/>
<line x1="775.84" y1="554.44" x2="815.84" y2="514.44" stroke="#222" stroke-width="0.8"/>
</g>
<circle cx="782.9" cy="521.5" r="9.7" fill="none" stroke="#1a1a1a" stroke-width="1.55"/>
<rect x="780.3" y="511.5" width="5.2" height="3.5" fill="#fff" stroke="#1a1a1a" stroke-width="0.8"/>
<line x1="763" y1="499.8" x2="798.8" y2="499.8" stroke="#3c3c3c" stroke-width="0.7"/>
<path d="M780.4,499.8 L773.4,500.85 L773.4,498.75 Z" fill="#111"/>
<path d="M785.4,499.8 L792.4,498.75 L792.4,500.85 Z" fill="#111"/>
<line x1="780.4" y1="492.8" x2="780.4" y2="513" stroke="#666" stroke-width="0.55"/>
<line x1="785.4" y1="492.8" x2="785.4" y2="513" stroke="#666" stroke-width="0.55"/>
<text x="768.38" y="496.04" font-size="10.1" text-anchor="middle" fill="#111" letter-spacing="0.75">12</text>
<line x1="786" y1="511.8" x2="822" y2="511.8" stroke="#666" stroke-width="0.55"/>
<line x1="783" y1="531.2" x2="822" y2="531.2" stroke="#666" stroke-width="0.55"/>
<line x1="812" y1="511.8" x2="812" y2="531.2" stroke="#3c3c3c" stroke-width="0.7"/>
<path d="M812,511.8 L813.05,518.8 L810.95,518.8 Z" fill="#111"/>
<path d="M812,531.2 L810.95,524.2 L813.05,524.2 Z" fill="#111"/>
<text x="808.94" y="520.88" font-size="10.1" text-anchor="middle" fill="#111" letter-spacing="0.75" transform="rotate(-90 808.94 520.88)">45</text>
<line x1="615" y1="666.8" x2="700" y2="666.8" stroke="#777" stroke-width="0.7" stroke-dasharray="1.2 2.2"/>
<line x1="700" y1="671.5" x2="835" y2="671.5" stroke="#777" stroke-width="0.7" stroke-dasharray="1.2 2.2"/>
<g transform="translate(470.1 495.3) translate(151 0) scale(1.05 1) translate(-151 0)">
<path d="M151,164.5 L176.7,164.5 L176.7,160 L180,151.6 L195.3,150.3 L195.3,143.7 L233.3,142.4 L249,142.4 L249,207.4 L261.6,207.4 L261.6,216.7 L182,216.7 L182,207.4 L194.3,207.4 L194.3,191.9 L180,191.9 L176.7,184 L176.7,178.5 L151,178.5 Z" fill="#fff" fill-opacity="0.5" stroke="none"/>
<rect x="151" y="164.5" width="25.7" height="14" fill="none" stroke="#1a1a1a" stroke-width="1.45"/>
<path d="M195.3,150.3 L180,151.6 C177.8,153.5 176.8,157 176.6,162 L176.6,182 C176.8,186.5 177.8,190 180,191.9 L194.3,191.9" fill="none" stroke="#1a1a1a" stroke-width="1.45" stroke-linejoin="round"/>
<line x1="180" y1="158.4" x2="195.3" y2="157.5" stroke="#3c3c3c" stroke-width="0.7"/>
<line x1="180" y1="185.5" x2="194.3" y2="186" stroke="#3c3c3c" stroke-width="0.7"/>
<line x1="177.8" y1="160" x2="177.8" y2="184" stroke="#999" stroke-width="1.6"/>
<path d="M195.3,150.3 L195.3,143.7 L231,143.7 L233.3,142.4" fill="none" stroke="#1a1a1a" stroke-width="1.55" stroke-linejoin="round"/>
<path d="M194.3,191.9 L194.3,207.4" fill="none" stroke="#1a1a1a" stroke-width="1.45" stroke-linejoin="round"/>
<line x1="197.5" y1="146.5" x2="231" y2="146.5" stroke="#777" stroke-width="0.5"/>
<line x1="220.2" y1="150" x2="220.2" y2="205" stroke="#3c3c3c" stroke-width="0.7"/>
<line x1="197.4" y1="175.7" x2="219.7" y2="175.7" stroke="#444" stroke-width="0.7"/>
<line x1="197.4" y1="179.7" x2="219.7" y2="179.7" stroke="#444" stroke-width="0.7"/>
<line x1="197.4" y1="183.8" x2="219.7" y2="183.8" stroke="#444" stroke-width="0.7"/>
<line x1="197.4" y1="187.8" x2="219.7" y2="187.8" stroke="#444" stroke-width="0.7"/>
<line x1="206.5" y1="191.4" x2="219.7" y2="191.4" stroke="#444" stroke-width="0.7"/>
<line x1="206.5" y1="195.5" x2="219.7" y2="195.5" stroke="#444" stroke-width="0.7"/>
<line x1="206.5" y1="199.5" x2="219.7" y2="199.5" stroke="#444" stroke-width="0.7"/>
<line x1="206.5" y1="203.5" x2="219.7" y2="203.5" stroke="#444" stroke-width="0.7"/>
<circle cx="200.4" cy="195" r="2.6" fill="none" stroke="#555" stroke-width="0.6"/>
<line x1="197.5" y1="195" x2="203.3" y2="195" stroke="#555" stroke-width="0.5"/>
<line x1="200.4" y1="192.1" x2="200.4" y2="197.9" stroke="#555" stroke-width="0.5"/>
<rect x="232.3" y="142.4" width="16.7" height="74.3" fill="none" stroke="#1a1a1a" stroke-width="1.45"/>
<line x1="234.9" y1="142.4" x2="234.9" y2="216.7" stroke="#3c3c3c" stroke-width="0.7"/>
<circle cx="240.4" cy="137.7" r="7.4" fill="#fff" stroke="#1a1a1a" stroke-width="1.55"/>
<circle cx="240.4" cy="137.7" r="4.4" fill="none" stroke="#333" stroke-width="0.8"/>
<path d="M194.3,207.4 L182,207.4 L182,216.7 L261.6,216.7 L261.6,207.4 L249,207.4" fill="none" stroke="#1a1a1a" stroke-width="1.45" stroke-linejoin="round"/>
<line x1="184" y1="210" x2="232" y2="210" stroke="#777" stroke-width="0.5"/>
</g>
<path d="M724,651.5 L735,651.5 M724,688.5 L735,688.5" fill="none" stroke="#1a1a1a" stroke-width="1.1" stroke-linejoin="round"/>
<path d="M735,690.3 L735,652 C735,650 736.5,648.8 738.5,648.8 L753,648.8 L753,690.3 Z" fill="none" stroke="#1a1a1a" stroke-width="1.3" stroke-linejoin="round"/>
<line x1="737" y1="667" x2="752" y2="667" stroke="#555" stroke-width="0.6"/>
<line x1="737" y1="670" x2="752" y2="670" stroke="#555" stroke-width="0.6"/>
<line x1="737" y1="673" x2="752" y2="673" stroke="#555" stroke-width="0.6"/>
<line x1="737" y1="676" x2="752" y2="676" stroke="#555" stroke-width="0.6"/>
<line x1="737" y1="679" x2="752" y2="679" stroke="#555" stroke-width="0.6"/>
<line x1="737" y1="682" x2="752" y2="682" stroke="#555" stroke-width="0.6"/>
<line x1="737" y1="685" x2="752" y2="685" stroke="#555" stroke-width="0.6"/>
<rect x="737.5" y="679.5" width="5" height="5" fill="none" stroke="#333" stroke-width="0.6"/>
<rect x="753" y="649.7" width="17.3" height="47.8" fill="none" stroke="#1a1a1a" stroke-width="1.3"/>
<line x1="759.5" y1="650" x2="759.5" y2="697" stroke="#777" stroke-width="0.5"/>
<line x1="763" y1="650" x2="763" y2="697" stroke="#777" stroke-width="0.5"/>
<path d="M770.3,651 L773.9,651 L773.9,696 L770.3,696" fill="none" stroke="#1a1a1a" stroke-width="1" stroke-linejoin="round"/>
<circle cx="764.9" cy="644.3" r="4.5" fill="#fff" stroke="#1a1a1a" stroke-width="1.55"/>
<circle cx="764.9" cy="644.3" r="2.6" fill="none" stroke="#333" stroke-width="0.8"/>
<path d="M773.9,658.7 L782,658.7 M773.9,682.2 L782,682.2" fill="none" stroke="#1a1a1a" stroke-width="1" stroke-linejoin="round"/>
<line x1="777" y1="659" x2="777" y2="682" stroke="#777" stroke-width="0.5"/>
<path d="M782,654.2 L823.7,654.2 L829.7,658.52 L829.7,683.28 L823.7,687.6 L782,687.6 Z" fill="#fff" fill-opacity="0.5" stroke="none"/>
<path d="M782,654.2 L823.7,654.2 L829.7,658.52 L829.7,683.28 L823.7,687.6 L782,687.6 Z" fill="none" stroke="#1a1a1a" stroke-width="1.3" stroke-linejoin="round"/>
<line x1="818" y1="654.2" x2="818" y2="687.6" stroke="#333" stroke-width="0.8"/>
<line x1="783.5" y1="659.2" x2="818" y2="659.2" stroke="#777" stroke-width="0.5"/>
<line x1="783.5" y1="682.6" x2="818" y2="682.6" stroke="#777" stroke-width="0.5"/>
<rect x="797.3" y="660.5" width="18.9" height="19.9" fill="none" stroke="#333" stroke-width="0.9"/>
<line x1="784" y1="663" x2="797.3" y2="663" stroke="#555" stroke-width="0.6"/>
<line x1="784" y1="666.5" x2="797.3" y2="666.5" stroke="#555" stroke-width="0.6"/>
<line x1="784" y1="670" x2="797.3" y2="670" stroke="#555" stroke-width="0.6"/>
<line x1="784" y1="673.5" x2="797.3" y2="673.5" stroke="#555" stroke-width="0.6"/>
<line x1="784" y1="677" x2="797.3" y2="677" stroke="#555" stroke-width="0.6"/>
<line x1="722.1" y1="620" x2="722.1" y2="636" stroke="#666" stroke-width="0.55"/>
<line x1="771.3" y1="620" x2="771.3" y2="645" stroke="#666" stroke-width="0.55"/>
<line x1="829.9" y1="620" x2="829.9" y2="653.7" stroke="#666" stroke-width="0.55"/>
<line x1="722.1" y1="624.4" x2="829.9" y2="624.4" stroke="#3c3c3c" stroke-width="0.7"/>
<path d="M722.1,624.4 L729.1,623.35 L729.1,625.45 Z" fill="#111"/>
<path d="M771.3,624.4 L764.3,625.45 L764.3,623.35 Z" fill="#111"/>
<path d="M771.3,624.4 L778.3,623.35 L778.3,625.45 Z" fill="#111"/>
<path d="M829.9,624.4 L822.9,625.45 L822.9,623.35 Z" fill="#111"/>
<text x="746.48" y="622.24" font-size="10.1" text-anchor="middle" fill="#111" letter-spacing="0.75">220</text>
<text x="800.98" y="622.24" font-size="10.1" text-anchor="middle" fill="#111" letter-spacing="0.75">L3</text>
<line x1="830.5" y1="653.7" x2="854" y2="653.7" stroke="#666" stroke-width="0.55"/>
<line x1="830.5" y1="687.4" x2="854" y2="687.4" stroke="#666" stroke-width="0.55"/>
<line x1="848.6" y1="653.7" x2="848.6" y2="687.4" stroke="#3c3c3c" stroke-width="0.7"/>
<path d="M848.6,653.7 L849.65,660.7 L847.55,660.7 Z" fill="#111"/>
<path d="M848.6,687.4 L847.55,680.4 L849.65,680.4 Z" fill="#111"/>
<text x="845.84" y="671.08" font-size="10.1" text-anchor="middle" fill="#111" letter-spacing="0.75" transform="rotate(-90 845.84 671.08)">G</text>
</svg>
</body></html>
